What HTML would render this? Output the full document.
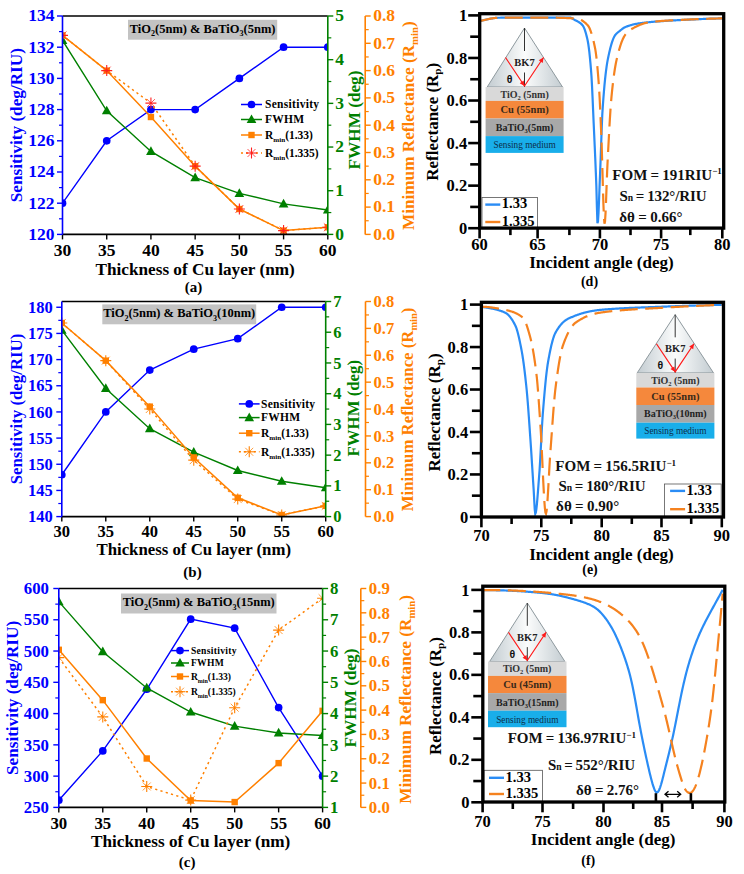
<!DOCTYPE html><html><head><meta charset="utf-8"><style>html,body{margin:0;padding:0;background:#fff;width:744px;height:874px;overflow:hidden}svg{display:block}text{font-family:"Liberation Serif",serif}</style></head><body>
<svg width="744" height="874" viewBox="0 0 744 874">
<rect width="744" height="874" fill="#fff"/>
<clipPath id="cla"><rect x="62.5" y="16.0" width="265.3" height="218.4"/></clipPath><g clip-path="url(#cla)">
<polyline points="62.50,203.20 106.72,140.80 150.93,109.60 195.15,109.60 239.37,78.40 283.58,47.20 327.80,47.20" fill="none" stroke="#0000ff" stroke-width="1.4" />
<circle cx="62.50" cy="203.20" r="3.85" fill="#0000ff"/>
<circle cx="106.72" cy="140.80" r="3.85" fill="#0000ff"/>
<circle cx="150.93" cy="109.60" r="3.85" fill="#0000ff"/>
<circle cx="195.15" cy="109.60" r="3.85" fill="#0000ff"/>
<circle cx="239.37" cy="78.40" r="3.85" fill="#0000ff"/>
<circle cx="283.58" cy="47.20" r="3.85" fill="#0000ff"/>
<circle cx="327.80" cy="47.20" r="3.85" fill="#0000ff"/>
<polyline points="62.50,40.46 106.72,110.79 150.93,151.41 195.15,177.62 239.37,193.34 283.58,203.82 327.80,209.94" fill="none" stroke="#008000" stroke-width="1.4" />
<path d="M62.50,35.36 L67.34,44.03 L57.66,44.03Z" fill="#008000"/>
<path d="M106.72,105.69 L111.56,114.36 L101.87,114.36Z" fill="#008000"/>
<path d="M150.93,146.31 L155.78,154.98 L146.09,154.98Z" fill="#008000"/>
<path d="M195.15,172.52 L200.00,181.19 L190.31,181.19Z" fill="#008000"/>
<path d="M239.37,188.24 L244.21,196.91 L234.52,196.91Z" fill="#008000"/>
<path d="M283.58,198.72 L288.43,207.39 L278.74,207.39Z" fill="#008000"/>
<path d="M327.80,204.84 L332.65,213.51 L322.95,213.51Z" fill="#008000"/>
<polyline points="62.50,35.38 106.72,70.60 150.93,117.01 195.15,166.15 239.37,209.01 283.58,230.58 327.80,227.30" fill="none" stroke="#ff8000" stroke-width="1.5" />
<rect x="59.30" y="32.18" width="6.40" height="6.40" fill="#ff8000"/>
<rect x="103.52" y="67.40" width="6.40" height="6.40" fill="#ff8000"/>
<rect x="147.73" y="113.81" width="6.40" height="6.40" fill="#ff8000"/>
<rect x="191.95" y="162.95" width="6.40" height="6.40" fill="#ff8000"/>
<rect x="236.17" y="205.81" width="6.40" height="6.40" fill="#ff8000"/>
<rect x="280.38" y="227.38" width="6.40" height="6.40" fill="#ff8000"/>
<rect x="324.60" y="224.10" width="6.40" height="6.40" fill="#ff8000"/>
<polyline points="62.50,35.38 106.72,70.60 150.93,103.09 195.15,166.15 239.37,209.01 283.58,230.58 327.80,227.30" fill="none" stroke="#ff8000" stroke-width="1.5" stroke-dasharray="2.2,3.3"/>
<g stroke="#ff2020" stroke-width="1.1"><line x1="57.00" y1="35.38" x2="68.00" y2="35.38"/><line x1="62.50" y1="29.88" x2="62.50" y2="40.88"/></g>
<g stroke="#ff2020" stroke-width="0.9" opacity="0.85"><line x1="58.54" y1="31.42" x2="66.46" y2="39.34"/><line x1="58.54" y1="39.34" x2="66.46" y2="31.42"/></g>
<g stroke="#ff2020" stroke-width="1.1"><line x1="101.22" y1="70.60" x2="112.22" y2="70.60"/><line x1="106.72" y1="65.10" x2="106.72" y2="76.10"/></g>
<g stroke="#ff2020" stroke-width="0.9" opacity="0.85"><line x1="102.76" y1="66.64" x2="110.68" y2="74.56"/><line x1="102.76" y1="74.56" x2="110.68" y2="66.64"/></g>
<g stroke="#ff2020" stroke-width="1.1"><line x1="145.43" y1="103.09" x2="156.43" y2="103.09"/><line x1="150.93" y1="97.59" x2="150.93" y2="108.59"/></g>
<g stroke="#ff2020" stroke-width="0.9" opacity="0.85"><line x1="146.97" y1="99.13" x2="154.89" y2="107.05"/><line x1="146.97" y1="107.05" x2="154.89" y2="99.13"/></g>
<g stroke="#ff2020" stroke-width="1.1"><line x1="189.65" y1="166.15" x2="200.65" y2="166.15"/><line x1="195.15" y1="160.65" x2="195.15" y2="171.65"/></g>
<g stroke="#ff2020" stroke-width="0.9" opacity="0.85"><line x1="191.19" y1="162.19" x2="199.11" y2="170.11"/><line x1="191.19" y1="170.11" x2="199.11" y2="162.19"/></g>
<g stroke="#ff2020" stroke-width="1.1"><line x1="233.87" y1="209.01" x2="244.87" y2="209.01"/><line x1="239.37" y1="203.51" x2="239.37" y2="214.51"/></g>
<g stroke="#ff2020" stroke-width="0.9" opacity="0.85"><line x1="235.41" y1="205.05" x2="243.33" y2="212.97"/><line x1="235.41" y1="212.97" x2="243.33" y2="205.05"/></g>
<g stroke="#ff2020" stroke-width="1.1"><line x1="278.08" y1="230.58" x2="289.08" y2="230.58"/><line x1="283.58" y1="225.08" x2="283.58" y2="236.08"/></g>
<g stroke="#ff2020" stroke-width="0.9" opacity="0.85"><line x1="279.62" y1="226.62" x2="287.54" y2="234.54"/><line x1="279.62" y1="234.54" x2="287.54" y2="226.62"/></g>
<g stroke="#ff2020" stroke-width="1.1"><line x1="322.30" y1="227.30" x2="333.30" y2="227.30"/><line x1="327.80" y1="221.80" x2="327.80" y2="232.80"/></g>
<g stroke="#ff2020" stroke-width="0.9" opacity="0.85"><line x1="323.84" y1="223.34" x2="331.76" y2="231.26"/><line x1="323.84" y1="231.26" x2="331.76" y2="223.34"/></g>
</g>
<line x1="62.50" y1="16.00" x2="327.80" y2="16.00" stroke="#000" stroke-width="1.5" />
<line x1="62.50" y1="234.40" x2="327.80" y2="234.40" stroke="#000" stroke-width="1.6" />
<line x1="62.50" y1="234.40" x2="62.50" y2="239.40" stroke="#000" stroke-width="1.4" />
<text x="62.50" y="255.70" font-size="17.5" fill="#000" text-anchor="middle" font-weight="bold" >30</text>
<line x1="106.72" y1="234.40" x2="106.72" y2="239.40" stroke="#000" stroke-width="1.4" />
<text x="106.72" y="255.70" font-size="17.5" fill="#000" text-anchor="middle" font-weight="bold" >35</text>
<line x1="150.93" y1="234.40" x2="150.93" y2="239.40" stroke="#000" stroke-width="1.4" />
<text x="150.93" y="255.70" font-size="17.5" fill="#000" text-anchor="middle" font-weight="bold" >40</text>
<line x1="195.15" y1="234.40" x2="195.15" y2="239.40" stroke="#000" stroke-width="1.4" />
<text x="195.15" y="255.70" font-size="17.5" fill="#000" text-anchor="middle" font-weight="bold" >45</text>
<line x1="239.37" y1="234.40" x2="239.37" y2="239.40" stroke="#000" stroke-width="1.4" />
<text x="239.37" y="255.70" font-size="17.5" fill="#000" text-anchor="middle" font-weight="bold" >50</text>
<line x1="283.58" y1="234.40" x2="283.58" y2="239.40" stroke="#000" stroke-width="1.4" />
<text x="283.58" y="255.70" font-size="17.5" fill="#000" text-anchor="middle" font-weight="bold" >55</text>
<line x1="327.80" y1="234.40" x2="327.80" y2="239.40" stroke="#000" stroke-width="1.4" />
<text x="327.80" y="255.70" font-size="17.5" fill="#000" text-anchor="middle" font-weight="bold" >60</text>
<line x1="62.50" y1="16.00" x2="62.50" y2="234.40" stroke="#0000ff" stroke-width="1.6" />
<line x1="62.50" y1="234.40" x2="57.00" y2="234.40" stroke="#0000ff" stroke-width="1.4" />
<text x="54.50" y="239.70" font-size="17.5" fill="#0000ff" text-anchor="end" font-weight="bold" >120</text>
<line x1="62.50" y1="203.20" x2="57.00" y2="203.20" stroke="#0000ff" stroke-width="1.4" />
<text x="54.50" y="208.50" font-size="17.5" fill="#0000ff" text-anchor="end" font-weight="bold" >122</text>
<line x1="62.50" y1="172.00" x2="57.00" y2="172.00" stroke="#0000ff" stroke-width="1.4" />
<text x="54.50" y="177.30" font-size="17.5" fill="#0000ff" text-anchor="end" font-weight="bold" >124</text>
<line x1="62.50" y1="140.80" x2="57.00" y2="140.80" stroke="#0000ff" stroke-width="1.4" />
<text x="54.50" y="146.10" font-size="17.5" fill="#0000ff" text-anchor="end" font-weight="bold" >126</text>
<line x1="62.50" y1="109.60" x2="57.00" y2="109.60" stroke="#0000ff" stroke-width="1.4" />
<text x="54.50" y="114.90" font-size="17.5" fill="#0000ff" text-anchor="end" font-weight="bold" >128</text>
<line x1="62.50" y1="78.40" x2="57.00" y2="78.40" stroke="#0000ff" stroke-width="1.4" />
<text x="54.50" y="83.70" font-size="17.5" fill="#0000ff" text-anchor="end" font-weight="bold" >130</text>
<line x1="62.50" y1="47.20" x2="57.00" y2="47.20" stroke="#0000ff" stroke-width="1.4" />
<text x="54.50" y="52.50" font-size="17.5" fill="#0000ff" text-anchor="end" font-weight="bold" >132</text>
<line x1="62.50" y1="16.00" x2="57.00" y2="16.00" stroke="#0000ff" stroke-width="1.4" />
<text x="54.50" y="21.30" font-size="17.5" fill="#0000ff" text-anchor="end" font-weight="bold" >134</text>
<line x1="62.50" y1="218.80" x2="59.00" y2="218.80" stroke="#0000ff" stroke-width="1.2" />
<line x1="62.50" y1="187.60" x2="59.00" y2="187.60" stroke="#0000ff" stroke-width="1.2" />
<line x1="62.50" y1="156.40" x2="59.00" y2="156.40" stroke="#0000ff" stroke-width="1.2" />
<line x1="62.50" y1="125.20" x2="59.00" y2="125.20" stroke="#0000ff" stroke-width="1.2" />
<line x1="62.50" y1="94.00" x2="59.00" y2="94.00" stroke="#0000ff" stroke-width="1.2" />
<line x1="62.50" y1="62.80" x2="59.00" y2="62.80" stroke="#0000ff" stroke-width="1.2" />
<line x1="62.50" y1="31.60" x2="59.00" y2="31.60" stroke="#0000ff" stroke-width="1.2" />
<line x1="327.80" y1="16.00" x2="327.80" y2="234.40" stroke="#008000" stroke-width="1.6" />
<line x1="327.80" y1="234.40" x2="333.30" y2="234.40" stroke="#008000" stroke-width="1.4" />
<text x="335.30" y="239.70" font-size="17.5" fill="#008000" text-anchor="start" font-weight="bold" >0</text>
<line x1="327.80" y1="190.72" x2="333.30" y2="190.72" stroke="#008000" stroke-width="1.4" />
<text x="335.30" y="196.02" font-size="17.5" fill="#008000" text-anchor="start" font-weight="bold" >1</text>
<line x1="327.80" y1="147.04" x2="333.30" y2="147.04" stroke="#008000" stroke-width="1.4" />
<text x="335.30" y="152.34" font-size="17.5" fill="#008000" text-anchor="start" font-weight="bold" >2</text>
<line x1="327.80" y1="103.36" x2="333.30" y2="103.36" stroke="#008000" stroke-width="1.4" />
<text x="335.30" y="108.66" font-size="17.5" fill="#008000" text-anchor="start" font-weight="bold" >3</text>
<line x1="327.80" y1="59.68" x2="333.30" y2="59.68" stroke="#008000" stroke-width="1.4" />
<text x="335.30" y="64.98" font-size="17.5" fill="#008000" text-anchor="start" font-weight="bold" >4</text>
<line x1="327.80" y1="16.00" x2="333.30" y2="16.00" stroke="#008000" stroke-width="1.4" />
<text x="335.30" y="21.30" font-size="17.5" fill="#008000" text-anchor="start" font-weight="bold" >5</text>
<line x1="327.80" y1="212.56" x2="331.30" y2="212.56" stroke="#008000" stroke-width="1.2" />
<line x1="327.80" y1="168.88" x2="331.30" y2="168.88" stroke="#008000" stroke-width="1.2" />
<line x1="327.80" y1="125.20" x2="331.30" y2="125.20" stroke="#008000" stroke-width="1.2" />
<line x1="327.80" y1="81.52" x2="331.30" y2="81.52" stroke="#008000" stroke-width="1.2" />
<line x1="327.80" y1="37.84" x2="331.30" y2="37.84" stroke="#008000" stroke-width="1.2" />
<line x1="365.20" y1="16.00" x2="365.20" y2="234.40" stroke="#ff8000" stroke-width="1.6" />
<line x1="365.20" y1="234.40" x2="370.70" y2="234.40" stroke="#ff8000" stroke-width="1.4" />
<text x="373.20" y="239.70" font-size="17.5" fill="#ff8000" text-anchor="start" font-weight="bold" >0.0</text>
<line x1="365.20" y1="207.10" x2="370.70" y2="207.10" stroke="#ff8000" stroke-width="1.4" />
<text x="373.20" y="212.40" font-size="17.5" fill="#ff8000" text-anchor="start" font-weight="bold" >0.1</text>
<line x1="365.20" y1="179.80" x2="370.70" y2="179.80" stroke="#ff8000" stroke-width="1.4" />
<text x="373.20" y="185.10" font-size="17.5" fill="#ff8000" text-anchor="start" font-weight="bold" >0.2</text>
<line x1="365.20" y1="152.50" x2="370.70" y2="152.50" stroke="#ff8000" stroke-width="1.4" />
<text x="373.20" y="157.80" font-size="17.5" fill="#ff8000" text-anchor="start" font-weight="bold" >0.3</text>
<line x1="365.20" y1="125.20" x2="370.70" y2="125.20" stroke="#ff8000" stroke-width="1.4" />
<text x="373.20" y="130.50" font-size="17.5" fill="#ff8000" text-anchor="start" font-weight="bold" >0.4</text>
<line x1="365.20" y1="97.90" x2="370.70" y2="97.90" stroke="#ff8000" stroke-width="1.4" />
<text x="373.20" y="103.20" font-size="17.5" fill="#ff8000" text-anchor="start" font-weight="bold" >0.5</text>
<line x1="365.20" y1="70.60" x2="370.70" y2="70.60" stroke="#ff8000" stroke-width="1.4" />
<text x="373.20" y="75.90" font-size="17.5" fill="#ff8000" text-anchor="start" font-weight="bold" >0.6</text>
<line x1="365.20" y1="43.30" x2="370.70" y2="43.30" stroke="#ff8000" stroke-width="1.4" />
<text x="373.20" y="48.60" font-size="17.5" fill="#ff8000" text-anchor="start" font-weight="bold" >0.7</text>
<line x1="365.20" y1="16.00" x2="370.70" y2="16.00" stroke="#ff8000" stroke-width="1.4" />
<text x="373.20" y="21.30" font-size="17.5" fill="#ff8000" text-anchor="start" font-weight="bold" >0.8</text>
<line x1="365.20" y1="220.75" x2="368.70" y2="220.75" stroke="#ff8000" stroke-width="1.2" />
<line x1="365.20" y1="193.45" x2="368.70" y2="193.45" stroke="#ff8000" stroke-width="1.2" />
<line x1="365.20" y1="166.15" x2="368.70" y2="166.15" stroke="#ff8000" stroke-width="1.2" />
<line x1="365.20" y1="138.85" x2="368.70" y2="138.85" stroke="#ff8000" stroke-width="1.2" />
<line x1="365.20" y1="111.55" x2="368.70" y2="111.55" stroke="#ff8000" stroke-width="1.2" />
<line x1="365.20" y1="84.25" x2="368.70" y2="84.25" stroke="#ff8000" stroke-width="1.2" />
<line x1="365.20" y1="56.95" x2="368.70" y2="56.95" stroke="#ff8000" stroke-width="1.2" />
<line x1="365.20" y1="29.65" x2="368.70" y2="29.65" stroke="#ff8000" stroke-width="1.2" />
<text transform="translate(22.2,125.2) rotate(-90)" font-size="17.2" fill="#0000ff" text-anchor="middle" font-weight="bold">Sensitivity (deg/RIU)</text>
<text transform="translate(359.7,120) rotate(-90)" font-size="17.2" fill="#008000" text-anchor="middle" font-weight="bold">FWHM (deg)</text>
<text transform="translate(413.5,125.7) rotate(-90)" font-size="17.2" fill="#ff8000" text-anchor="middle" font-weight="bold">Minimum Reflectance (R<tspan font-size="10.7" dy="4">min</tspan><tspan dy="-4">)</tspan></text>
<text x="195.15" y="274.50" font-size="17.2" fill="#000" text-anchor="middle" font-weight="bold" >Thickness of Cu layer (nm)</text>
<text x="193.50" y="292.30" font-size="15" fill="#000" text-anchor="middle" font-weight="bold" >(a)</text>
<rect x="128" y="19.8" width="149.2" height="19.900000000000002" fill="#c3c3c3"/>
<text x="202.60" y="32.60" font-size="12.5" fill="#000" text-anchor="middle" font-weight="bold">TiO<tspan font-size="8.1" dy="3.8">2</tspan><tspan dy="-3.8">(5nm) &amp; BaTiO</tspan><tspan font-size="8.1" dy="3.8">3</tspan><tspan dy="-3.8">(5nm)</tspan></text>
<line x1="241.00" y1="104.50" x2="262.00" y2="104.50" stroke="#0000ff" stroke-width="1.5" />
<circle cx="251.50" cy="104.50" r="3.85" fill="#0000ff"/>
<text x="265.00" y="108.30" font-size="11.5" fill="#000" text-anchor="start" font-weight="bold" letter-spacing="0.3">Sensitivity</text>
<line x1="241.00" y1="119.50" x2="262.00" y2="119.50" stroke="#008000" stroke-width="1.5" />
<path d="M251.50,114.40 L256.35,123.07 L246.66,123.07Z" fill="#008000"/>
<text x="265.00" y="123.30" font-size="11.5" fill="#000" text-anchor="start" font-weight="bold" letter-spacing="0.3">FWHM</text>
<line x1="241.00" y1="135.00" x2="262.00" y2="135.00" stroke="#ff8000" stroke-width="1.5" />
<rect x="248.30" y="131.80" width="6.40" height="6.40" fill="#ff8000"/>
<text x="265.00" y="138.79" font-size="11.5" fill="#000" text-anchor="start" font-weight="bold" >R<tspan font-size="7.1" dy="3">min</tspan><tspan dy="-3">(1.33)</tspan></text>
<line x1="241.00" y1="153.00" x2="262.00" y2="153.00" stroke="#ff8000" stroke-width="1.4" stroke-dasharray="2,3"/>
<g stroke="#ff2020" stroke-width="1.1"><line x1="246.00" y1="153.00" x2="257.00" y2="153.00"/><line x1="251.50" y1="147.50" x2="251.50" y2="158.50"/></g>
<g stroke="#ff2020" stroke-width="0.9" opacity="0.85"><line x1="247.54" y1="149.04" x2="255.46" y2="156.96"/><line x1="247.54" y1="156.96" x2="255.46" y2="149.04"/></g>
<text x="265.00" y="156.79" font-size="11.5" fill="#000" text-anchor="start" font-weight="bold" >R<tspan font-size="7.1" dy="3">min</tspan><tspan dy="-3">(1.335)</tspan></text>
<clipPath id="clb"><rect x="61.8" y="301.5" width="263.9" height="215.10000000000002"/></clipPath><g clip-path="url(#clb)">
<polyline points="61.80,474.73 105.78,411.93 149.77,370.06 193.75,349.13 237.73,338.66 281.72,307.26 325.70,307.26" fill="none" stroke="#0000ff" stroke-width="1.4" />
<circle cx="61.80" cy="474.73" r="3.85" fill="#0000ff"/>
<circle cx="105.78" cy="411.93" r="3.85" fill="#0000ff"/>
<circle cx="149.77" cy="370.06" r="3.85" fill="#0000ff"/>
<circle cx="193.75" cy="349.13" r="3.85" fill="#0000ff"/>
<circle cx="237.73" cy="338.66" r="3.85" fill="#0000ff"/>
<circle cx="281.72" cy="307.26" r="3.85" fill="#0000ff"/>
<circle cx="325.70" cy="307.26" r="3.85" fill="#0000ff"/>
<polyline points="61.80,330.08 105.78,388.46 149.77,428.72 193.75,452.07 237.73,470.51 281.72,481.26 325.70,487.72" fill="none" stroke="#008000" stroke-width="1.4" />
<path d="M61.80,324.98 L66.64,333.65 L56.95,333.65Z" fill="#008000"/>
<path d="M105.78,383.36 L110.63,392.03 L100.94,392.03Z" fill="#008000"/>
<path d="M149.77,423.62 L154.61,432.29 L144.92,432.29Z" fill="#008000"/>
<path d="M193.75,446.97 L198.59,455.64 L188.91,455.64Z" fill="#008000"/>
<path d="M237.73,465.41 L242.58,474.08 L232.89,474.08Z" fill="#008000"/>
<path d="M281.72,476.16 L286.56,484.83 L276.87,484.83Z" fill="#008000"/>
<path d="M325.70,482.62 L330.55,491.29 L320.85,491.29Z" fill="#008000"/>
<polyline points="61.80,323.01 105.78,360.65 149.77,406.63 193.75,457.45 237.73,497.78 281.72,514.99 325.70,505.85" fill="none" stroke="#ff8000" stroke-width="1.5" />
<rect x="58.60" y="319.81" width="6.40" height="6.40" fill="#ff8000"/>
<rect x="102.58" y="357.45" width="6.40" height="6.40" fill="#ff8000"/>
<rect x="146.57" y="403.43" width="6.40" height="6.40" fill="#ff8000"/>
<rect x="190.55" y="454.25" width="6.40" height="6.40" fill="#ff8000"/>
<rect x="234.53" y="494.58" width="6.40" height="6.40" fill="#ff8000"/>
<rect x="278.52" y="511.79" width="6.40" height="6.40" fill="#ff8000"/>
<rect x="322.50" y="502.65" width="6.40" height="6.40" fill="#ff8000"/>
<polyline points="61.80,323.01 105.78,360.65 149.77,409.05 193.75,460.14 237.73,499.12 281.72,514.99 325.70,505.85" fill="none" stroke="#ff8000" stroke-width="1.5" stroke-dasharray="2.2,3.3"/>
<g stroke="#ff8000" stroke-width="1.1"><line x1="56.30" y1="323.01" x2="67.30" y2="323.01"/><line x1="61.80" y1="317.51" x2="61.80" y2="328.51"/></g>
<g stroke="#ff8000" stroke-width="0.9" opacity="0.85"><line x1="57.84" y1="319.05" x2="65.76" y2="326.97"/><line x1="57.84" y1="326.97" x2="65.76" y2="319.05"/></g>
<g stroke="#ff8000" stroke-width="1.1"><line x1="100.28" y1="360.65" x2="111.28" y2="360.65"/><line x1="105.78" y1="355.15" x2="105.78" y2="366.15"/></g>
<g stroke="#ff8000" stroke-width="0.9" opacity="0.85"><line x1="101.82" y1="356.69" x2="109.74" y2="364.61"/><line x1="101.82" y1="364.61" x2="109.74" y2="356.69"/></g>
<g stroke="#ff8000" stroke-width="1.1"><line x1="144.27" y1="409.05" x2="155.27" y2="409.05"/><line x1="149.77" y1="403.55" x2="149.77" y2="414.55"/></g>
<g stroke="#ff8000" stroke-width="0.9" opacity="0.85"><line x1="145.81" y1="405.09" x2="153.73" y2="413.01"/><line x1="145.81" y1="413.01" x2="153.73" y2="405.09"/></g>
<g stroke="#ff8000" stroke-width="1.1"><line x1="188.25" y1="460.14" x2="199.25" y2="460.14"/><line x1="193.75" y1="454.64" x2="193.75" y2="465.64"/></g>
<g stroke="#ff8000" stroke-width="0.9" opacity="0.85"><line x1="189.79" y1="456.18" x2="197.71" y2="464.10"/><line x1="189.79" y1="464.10" x2="197.71" y2="456.18"/></g>
<g stroke="#ff8000" stroke-width="1.1"><line x1="232.23" y1="499.12" x2="243.23" y2="499.12"/><line x1="237.73" y1="493.62" x2="237.73" y2="504.62"/></g>
<g stroke="#ff8000" stroke-width="0.9" opacity="0.85"><line x1="233.77" y1="495.16" x2="241.69" y2="503.08"/><line x1="233.77" y1="503.08" x2="241.69" y2="495.16"/></g>
<g stroke="#ff8000" stroke-width="1.1"><line x1="276.22" y1="514.99" x2="287.22" y2="514.99"/><line x1="281.72" y1="509.49" x2="281.72" y2="520.49"/></g>
<g stroke="#ff8000" stroke-width="0.9" opacity="0.85"><line x1="277.76" y1="511.03" x2="285.68" y2="518.95"/><line x1="277.76" y1="518.95" x2="285.68" y2="511.03"/></g>
<g stroke="#ff8000" stroke-width="1.1"><line x1="320.20" y1="505.85" x2="331.20" y2="505.85"/><line x1="325.70" y1="500.35" x2="325.70" y2="511.35"/></g>
<g stroke="#ff8000" stroke-width="0.9" opacity="0.85"><line x1="321.74" y1="501.89" x2="329.66" y2="509.81"/><line x1="321.74" y1="509.81" x2="329.66" y2="501.89"/></g>
</g>
<line x1="61.80" y1="301.50" x2="325.70" y2="301.50" stroke="#000" stroke-width="1.5" />
<line x1="61.80" y1="516.60" x2="325.70" y2="516.60" stroke="#000" stroke-width="1.6" />
<line x1="61.80" y1="516.60" x2="61.80" y2="521.60" stroke="#000" stroke-width="1.4" />
<text x="61.80" y="537.20" font-size="16.5" fill="#000" text-anchor="middle" font-weight="bold" >30</text>
<line x1="105.78" y1="516.60" x2="105.78" y2="521.60" stroke="#000" stroke-width="1.4" />
<text x="105.78" y="537.20" font-size="16.5" fill="#000" text-anchor="middle" font-weight="bold" >35</text>
<line x1="149.77" y1="516.60" x2="149.77" y2="521.60" stroke="#000" stroke-width="1.4" />
<text x="149.77" y="537.20" font-size="16.5" fill="#000" text-anchor="middle" font-weight="bold" >40</text>
<line x1="193.75" y1="516.60" x2="193.75" y2="521.60" stroke="#000" stroke-width="1.4" />
<text x="193.75" y="537.20" font-size="16.5" fill="#000" text-anchor="middle" font-weight="bold" >45</text>
<line x1="237.73" y1="516.60" x2="237.73" y2="521.60" stroke="#000" stroke-width="1.4" />
<text x="237.73" y="537.20" font-size="16.5" fill="#000" text-anchor="middle" font-weight="bold" >50</text>
<line x1="281.72" y1="516.60" x2="281.72" y2="521.60" stroke="#000" stroke-width="1.4" />
<text x="281.72" y="537.20" font-size="16.5" fill="#000" text-anchor="middle" font-weight="bold" >55</text>
<line x1="325.70" y1="516.60" x2="325.70" y2="521.60" stroke="#000" stroke-width="1.4" />
<text x="325.70" y="537.20" font-size="16.5" fill="#000" text-anchor="middle" font-weight="bold" >60</text>
<line x1="61.80" y1="301.50" x2="61.80" y2="516.60" stroke="#0000ff" stroke-width="1.6" />
<line x1="61.80" y1="516.60" x2="56.30" y2="516.60" stroke="#0000ff" stroke-width="1.4" />
<text x="52.80" y="522.20" font-size="16.5" fill="#0000ff" text-anchor="end" font-weight="bold" >140</text>
<line x1="61.80" y1="490.43" x2="56.30" y2="490.43" stroke="#0000ff" stroke-width="1.4" />
<text x="52.80" y="496.03" font-size="16.5" fill="#0000ff" text-anchor="end" font-weight="bold" >145</text>
<line x1="61.80" y1="464.26" x2="56.30" y2="464.26" stroke="#0000ff" stroke-width="1.4" />
<text x="52.80" y="469.86" font-size="16.5" fill="#0000ff" text-anchor="end" font-weight="bold" >150</text>
<line x1="61.80" y1="438.10" x2="56.30" y2="438.10" stroke="#0000ff" stroke-width="1.4" />
<text x="52.80" y="443.70" font-size="16.5" fill="#0000ff" text-anchor="end" font-weight="bold" >155</text>
<line x1="61.80" y1="411.93" x2="56.30" y2="411.93" stroke="#0000ff" stroke-width="1.4" />
<text x="52.80" y="417.53" font-size="16.5" fill="#0000ff" text-anchor="end" font-weight="bold" >160</text>
<line x1="61.80" y1="385.76" x2="56.30" y2="385.76" stroke="#0000ff" stroke-width="1.4" />
<text x="52.80" y="391.36" font-size="16.5" fill="#0000ff" text-anchor="end" font-weight="bold" >165</text>
<line x1="61.80" y1="359.59" x2="56.30" y2="359.59" stroke="#0000ff" stroke-width="1.4" />
<text x="52.80" y="365.19" font-size="16.5" fill="#0000ff" text-anchor="end" font-weight="bold" >170</text>
<line x1="61.80" y1="333.42" x2="56.30" y2="333.42" stroke="#0000ff" stroke-width="1.4" />
<text x="52.80" y="339.02" font-size="16.5" fill="#0000ff" text-anchor="end" font-weight="bold" >175</text>
<line x1="61.80" y1="307.26" x2="56.30" y2="307.26" stroke="#0000ff" stroke-width="1.4" />
<text x="52.80" y="312.86" font-size="16.5" fill="#0000ff" text-anchor="end" font-weight="bold" >180</text>
<line x1="61.80" y1="503.52" x2="58.30" y2="503.52" stroke="#0000ff" stroke-width="1.2" />
<line x1="61.80" y1="477.35" x2="58.30" y2="477.35" stroke="#0000ff" stroke-width="1.2" />
<line x1="61.80" y1="451.18" x2="58.30" y2="451.18" stroke="#0000ff" stroke-width="1.2" />
<line x1="61.80" y1="425.01" x2="58.30" y2="425.01" stroke="#0000ff" stroke-width="1.2" />
<line x1="61.80" y1="398.84" x2="58.30" y2="398.84" stroke="#0000ff" stroke-width="1.2" />
<line x1="61.80" y1="372.68" x2="58.30" y2="372.68" stroke="#0000ff" stroke-width="1.2" />
<line x1="61.80" y1="346.51" x2="58.30" y2="346.51" stroke="#0000ff" stroke-width="1.2" />
<line x1="61.80" y1="320.34" x2="58.30" y2="320.34" stroke="#0000ff" stroke-width="1.2" />
<line x1="325.70" y1="301.50" x2="325.70" y2="516.60" stroke="#008000" stroke-width="1.6" />
<line x1="325.70" y1="516.60" x2="331.20" y2="516.60" stroke="#008000" stroke-width="1.4" />
<text x="333.20" y="522.20" font-size="16.5" fill="#008000" text-anchor="start" font-weight="bold" >0</text>
<line x1="325.70" y1="485.87" x2="331.20" y2="485.87" stroke="#008000" stroke-width="1.4" />
<text x="333.20" y="491.47" font-size="16.5" fill="#008000" text-anchor="start" font-weight="bold" >1</text>
<line x1="325.70" y1="455.14" x2="331.20" y2="455.14" stroke="#008000" stroke-width="1.4" />
<text x="333.20" y="460.74" font-size="16.5" fill="#008000" text-anchor="start" font-weight="bold" >2</text>
<line x1="325.70" y1="424.41" x2="331.20" y2="424.41" stroke="#008000" stroke-width="1.4" />
<text x="333.20" y="430.01" font-size="16.5" fill="#008000" text-anchor="start" font-weight="bold" >3</text>
<line x1="325.70" y1="393.69" x2="331.20" y2="393.69" stroke="#008000" stroke-width="1.4" />
<text x="333.20" y="399.29" font-size="16.5" fill="#008000" text-anchor="start" font-weight="bold" >4</text>
<line x1="325.70" y1="362.96" x2="331.20" y2="362.96" stroke="#008000" stroke-width="1.4" />
<text x="333.20" y="368.56" font-size="16.5" fill="#008000" text-anchor="start" font-weight="bold" >5</text>
<line x1="325.70" y1="332.23" x2="331.20" y2="332.23" stroke="#008000" stroke-width="1.4" />
<text x="333.20" y="337.83" font-size="16.5" fill="#008000" text-anchor="start" font-weight="bold" >6</text>
<line x1="325.70" y1="301.50" x2="331.20" y2="301.50" stroke="#008000" stroke-width="1.4" />
<text x="333.20" y="307.10" font-size="16.5" fill="#008000" text-anchor="start" font-weight="bold" >7</text>
<line x1="325.70" y1="501.24" x2="329.20" y2="501.24" stroke="#008000" stroke-width="1.2" />
<line x1="325.70" y1="470.51" x2="329.20" y2="470.51" stroke="#008000" stroke-width="1.2" />
<line x1="325.70" y1="439.78" x2="329.20" y2="439.78" stroke="#008000" stroke-width="1.2" />
<line x1="325.70" y1="409.05" x2="329.20" y2="409.05" stroke="#008000" stroke-width="1.2" />
<line x1="325.70" y1="378.32" x2="329.20" y2="378.32" stroke="#008000" stroke-width="1.2" />
<line x1="325.70" y1="347.59" x2="329.20" y2="347.59" stroke="#008000" stroke-width="1.2" />
<line x1="325.70" y1="316.86" x2="329.20" y2="316.86" stroke="#008000" stroke-width="1.2" />
<line x1="365.50" y1="301.50" x2="365.50" y2="516.60" stroke="#ff8000" stroke-width="1.6" />
<line x1="365.50" y1="516.60" x2="371.00" y2="516.60" stroke="#ff8000" stroke-width="1.4" />
<text x="373.50" y="522.20" font-size="16.5" fill="#ff8000" text-anchor="start" font-weight="bold" >0.0</text>
<line x1="365.50" y1="489.71" x2="371.00" y2="489.71" stroke="#ff8000" stroke-width="1.4" />
<text x="373.50" y="495.31" font-size="16.5" fill="#ff8000" text-anchor="start" font-weight="bold" >0.1</text>
<line x1="365.50" y1="462.82" x2="371.00" y2="462.82" stroke="#ff8000" stroke-width="1.4" />
<text x="373.50" y="468.43" font-size="16.5" fill="#ff8000" text-anchor="start" font-weight="bold" >0.2</text>
<line x1="365.50" y1="435.94" x2="371.00" y2="435.94" stroke="#ff8000" stroke-width="1.4" />
<text x="373.50" y="441.54" font-size="16.5" fill="#ff8000" text-anchor="start" font-weight="bold" >0.3</text>
<line x1="365.50" y1="409.05" x2="371.00" y2="409.05" stroke="#ff8000" stroke-width="1.4" />
<text x="373.50" y="414.65" font-size="16.5" fill="#ff8000" text-anchor="start" font-weight="bold" >0.4</text>
<line x1="365.50" y1="382.16" x2="371.00" y2="382.16" stroke="#ff8000" stroke-width="1.4" />
<text x="373.50" y="387.76" font-size="16.5" fill="#ff8000" text-anchor="start" font-weight="bold" >0.5</text>
<line x1="365.50" y1="355.27" x2="371.00" y2="355.27" stroke="#ff8000" stroke-width="1.4" />
<text x="373.50" y="360.88" font-size="16.5" fill="#ff8000" text-anchor="start" font-weight="bold" >0.6</text>
<line x1="365.50" y1="328.39" x2="371.00" y2="328.39" stroke="#ff8000" stroke-width="1.4" />
<text x="373.50" y="333.99" font-size="16.5" fill="#ff8000" text-anchor="start" font-weight="bold" >0.7</text>
<line x1="365.50" y1="301.50" x2="371.00" y2="301.50" stroke="#ff8000" stroke-width="1.4" />
<text x="373.50" y="307.10" font-size="16.5" fill="#ff8000" text-anchor="start" font-weight="bold" >0.8</text>
<line x1="365.50" y1="503.16" x2="369.00" y2="503.16" stroke="#ff8000" stroke-width="1.2" />
<line x1="365.50" y1="476.27" x2="369.00" y2="476.27" stroke="#ff8000" stroke-width="1.2" />
<line x1="365.50" y1="449.38" x2="369.00" y2="449.38" stroke="#ff8000" stroke-width="1.2" />
<line x1="365.50" y1="422.49" x2="369.00" y2="422.49" stroke="#ff8000" stroke-width="1.2" />
<line x1="365.50" y1="395.61" x2="369.00" y2="395.61" stroke="#ff8000" stroke-width="1.2" />
<line x1="365.50" y1="368.72" x2="369.00" y2="368.72" stroke="#ff8000" stroke-width="1.2" />
<line x1="365.50" y1="341.83" x2="369.00" y2="341.83" stroke="#ff8000" stroke-width="1.2" />
<line x1="365.50" y1="314.94" x2="369.00" y2="314.94" stroke="#ff8000" stroke-width="1.2" />
<text transform="translate(22.4,409.05) rotate(-90)" font-size="16.8" fill="#0000ff" text-anchor="middle" font-weight="bold">Sensitivity (deg/RIU)</text>
<text transform="translate(358.8,408.2) rotate(-90)" font-size="16.8" fill="#008000" text-anchor="middle" font-weight="bold">FWHM (deg)</text>
<text transform="translate(412.5,409.5) rotate(-90)" font-size="16.8" fill="#ff8000" text-anchor="middle" font-weight="bold">Minimum Reflectance (R<tspan font-size="10.4" dy="4">min</tspan><tspan dy="-4">)</tspan></text>
<text x="193.75" y="554.50" font-size="16.8" fill="#000" text-anchor="middle" font-weight="bold" >Thickness of Cu layer (nm)</text>
<text x="192.50" y="576.50" font-size="15" fill="#000" text-anchor="middle" font-weight="bold" >(b)</text>
<rect x="102.3" y="304.4" width="153.89999999999998" height="19.900000000000034" fill="#c3c3c3"/>
<text x="179.25" y="317.20" font-size="12.5" fill="#000" text-anchor="middle" font-weight="bold">TiO<tspan font-size="8.1" dy="3.8">2</tspan><tspan dy="-3.8">(5nm) &amp; BaTiO</tspan><tspan font-size="8.1" dy="3.8">3</tspan><tspan dy="-3.8">(10nm)</tspan></text>
<line x1="238.90" y1="403.90" x2="259.60" y2="403.90" stroke="#0000ff" stroke-width="1.5" />
<circle cx="249.25" cy="403.90" r="3.85" fill="#0000ff"/>
<text x="261.00" y="407.69" font-size="11.5" fill="#000" text-anchor="start" font-weight="bold" letter-spacing="0.3">Sensitivity</text>
<line x1="238.90" y1="417.60" x2="259.60" y2="417.60" stroke="#008000" stroke-width="1.5" />
<path d="M249.25,412.50 L254.09,421.17 L244.41,421.17Z" fill="#008000"/>
<text x="261.00" y="421.40" font-size="11.5" fill="#000" text-anchor="start" font-weight="bold" letter-spacing="0.3">FWHM</text>
<line x1="238.90" y1="433.20" x2="259.60" y2="433.20" stroke="#ff8000" stroke-width="1.5" />
<rect x="246.05" y="430.00" width="6.40" height="6.40" fill="#ff8000"/>
<text x="261.00" y="437.00" font-size="11.5" fill="#000" text-anchor="start" font-weight="bold" >R<tspan font-size="7.1" dy="3">min</tspan><tspan dy="-3">(1.33)</tspan></text>
<line x1="238.90" y1="451.80" x2="259.60" y2="451.80" stroke="#ff8000" stroke-width="1.4" stroke-dasharray="2,3"/>
<g stroke="#ff8000" stroke-width="1.1"><line x1="243.75" y1="451.80" x2="254.75" y2="451.80"/><line x1="249.25" y1="446.30" x2="249.25" y2="457.30"/></g>
<g stroke="#ff8000" stroke-width="0.9" opacity="0.85"><line x1="245.29" y1="447.84" x2="253.21" y2="455.76"/><line x1="245.29" y1="455.76" x2="253.21" y2="447.84"/></g>
<text x="261.00" y="455.60" font-size="11.5" fill="#000" text-anchor="start" font-weight="bold" >R<tspan font-size="7.1" dy="3">min</tspan><tspan dy="-3">(1.335)</tspan></text>
<clipPath id="clc"><rect x="58.8" y="588.5" width="263.8" height="218.89999999999998"/></clipPath><g clip-path="url(#clc)">
<polyline points="58.80,800.21 102.77,750.92 146.73,689.26 190.70,619.15 234.67,628.15 278.63,707.58 322.60,776.13" fill="none" stroke="#0000ff" stroke-width="1.4" />
<circle cx="58.80" cy="800.21" r="3.85" fill="#0000ff"/>
<circle cx="102.77" cy="750.92" r="3.85" fill="#0000ff"/>
<circle cx="146.73" cy="689.26" r="3.85" fill="#0000ff"/>
<circle cx="190.70" cy="619.15" r="3.85" fill="#0000ff"/>
<circle cx="234.67" cy="628.15" r="3.85" fill="#0000ff"/>
<circle cx="278.63" cy="707.58" r="3.85" fill="#0000ff"/>
<circle cx="322.60" cy="776.13" r="3.85" fill="#0000ff"/>
<polyline points="58.80,601.63 102.77,651.67 146.73,687.94 190.70,712.02 234.67,726.09 278.63,732.97 322.60,735.48" fill="none" stroke="#008000" stroke-width="1.4" />
<path d="M58.80,596.53 L63.64,605.20 L53.95,605.20Z" fill="#008000"/>
<path d="M102.77,646.57 L107.61,655.24 L97.92,655.24Z" fill="#008000"/>
<path d="M146.73,682.84 L151.58,691.51 L141.89,691.51Z" fill="#008000"/>
<path d="M190.70,706.92 L195.54,715.59 L185.85,715.59Z" fill="#008000"/>
<path d="M234.67,720.99 L239.51,729.66 L229.82,729.66Z" fill="#008000"/>
<path d="M278.63,727.87 L283.48,736.54 L273.79,736.54Z" fill="#008000"/>
<path d="M322.60,730.38 L327.45,739.05 L317.75,739.05Z" fill="#008000"/>
<polyline points="58.80,649.79 102.77,700.14 146.73,758.51 190.70,800.59 234.67,802.05 278.63,763.13 322.60,710.84" fill="none" stroke="#ff8000" stroke-width="1.5" />
<rect x="55.60" y="646.59" width="6.40" height="6.40" fill="#ff8000"/>
<rect x="99.57" y="696.94" width="6.40" height="6.40" fill="#ff8000"/>
<rect x="143.53" y="755.31" width="6.40" height="6.40" fill="#ff8000"/>
<rect x="187.50" y="797.39" width="6.40" height="6.40" fill="#ff8000"/>
<rect x="231.47" y="798.85" width="6.40" height="6.40" fill="#ff8000"/>
<rect x="275.43" y="759.93" width="6.40" height="6.40" fill="#ff8000"/>
<rect x="319.40" y="707.64" width="6.40" height="6.40" fill="#ff8000"/>
<polyline points="58.80,657.58 102.77,716.92 146.73,786.48 190.70,800.10 234.67,707.68 278.63,630.09 322.60,598.23" fill="none" stroke="#ff8000" stroke-width="1.5" stroke-dasharray="2.2,3.3"/>
<g stroke="#ff8000" stroke-width="1.1"><line x1="53.30" y1="657.58" x2="64.30" y2="657.58"/><line x1="58.80" y1="652.08" x2="58.80" y2="663.08"/></g>
<g stroke="#ff8000" stroke-width="0.9" opacity="0.85"><line x1="54.84" y1="653.62" x2="62.76" y2="661.54"/><line x1="54.84" y1="661.54" x2="62.76" y2="653.62"/></g>
<g stroke="#ff8000" stroke-width="1.1"><line x1="97.27" y1="716.92" x2="108.27" y2="716.92"/><line x1="102.77" y1="711.42" x2="102.77" y2="722.42"/></g>
<g stroke="#ff8000" stroke-width="0.9" opacity="0.85"><line x1="98.81" y1="712.96" x2="106.73" y2="720.88"/><line x1="98.81" y1="720.88" x2="106.73" y2="712.96"/></g>
<g stroke="#ff8000" stroke-width="1.1"><line x1="141.23" y1="786.48" x2="152.23" y2="786.48"/><line x1="146.73" y1="780.98" x2="146.73" y2="791.98"/></g>
<g stroke="#ff8000" stroke-width="0.9" opacity="0.85"><line x1="142.77" y1="782.52" x2="150.69" y2="790.44"/><line x1="142.77" y1="790.44" x2="150.69" y2="782.52"/></g>
<g stroke="#ff8000" stroke-width="1.1"><line x1="185.20" y1="800.10" x2="196.20" y2="800.10"/><line x1="190.70" y1="794.60" x2="190.70" y2="805.60"/></g>
<g stroke="#ff8000" stroke-width="0.9" opacity="0.85"><line x1="186.74" y1="796.14" x2="194.66" y2="804.06"/><line x1="186.74" y1="804.06" x2="194.66" y2="796.14"/></g>
<g stroke="#ff8000" stroke-width="1.1"><line x1="229.17" y1="707.68" x2="240.17" y2="707.68"/><line x1="234.67" y1="702.18" x2="234.67" y2="713.18"/></g>
<g stroke="#ff8000" stroke-width="0.9" opacity="0.85"><line x1="230.71" y1="703.72" x2="238.63" y2="711.64"/><line x1="230.71" y1="711.64" x2="238.63" y2="703.72"/></g>
<g stroke="#ff8000" stroke-width="1.1"><line x1="273.13" y1="630.09" x2="284.13" y2="630.09"/><line x1="278.63" y1="624.59" x2="278.63" y2="635.59"/></g>
<g stroke="#ff8000" stroke-width="0.9" opacity="0.85"><line x1="274.67" y1="626.13" x2="282.59" y2="634.05"/><line x1="274.67" y1="634.05" x2="282.59" y2="626.13"/></g>
<g stroke="#ff8000" stroke-width="1.1"><line x1="317.10" y1="598.23" x2="328.10" y2="598.23"/><line x1="322.60" y1="592.73" x2="322.60" y2="603.73"/></g>
<g stroke="#ff8000" stroke-width="0.9" opacity="0.85"><line x1="318.64" y1="594.27" x2="326.56" y2="602.19"/><line x1="318.64" y1="602.19" x2="326.56" y2="594.27"/></g>
</g>
<line x1="58.80" y1="588.50" x2="322.60" y2="588.50" stroke="#000" stroke-width="1.5" />
<line x1="58.80" y1="807.40" x2="322.60" y2="807.40" stroke="#000" stroke-width="1.6" />
<line x1="58.80" y1="807.40" x2="58.80" y2="812.40" stroke="#000" stroke-width="1.4" />
<text x="58.80" y="828.50" font-size="16.8" fill="#000" text-anchor="middle" font-weight="bold" >30</text>
<line x1="102.77" y1="807.40" x2="102.77" y2="812.40" stroke="#000" stroke-width="1.4" />
<text x="102.77" y="828.50" font-size="16.8" fill="#000" text-anchor="middle" font-weight="bold" >35</text>
<line x1="146.73" y1="807.40" x2="146.73" y2="812.40" stroke="#000" stroke-width="1.4" />
<text x="146.73" y="828.50" font-size="16.8" fill="#000" text-anchor="middle" font-weight="bold" >40</text>
<line x1="190.70" y1="807.40" x2="190.70" y2="812.40" stroke="#000" stroke-width="1.4" />
<text x="190.70" y="828.50" font-size="16.8" fill="#000" text-anchor="middle" font-weight="bold" >45</text>
<line x1="234.67" y1="807.40" x2="234.67" y2="812.40" stroke="#000" stroke-width="1.4" />
<text x="234.67" y="828.50" font-size="16.8" fill="#000" text-anchor="middle" font-weight="bold" >50</text>
<line x1="278.63" y1="807.40" x2="278.63" y2="812.40" stroke="#000" stroke-width="1.4" />
<text x="278.63" y="828.50" font-size="16.8" fill="#000" text-anchor="middle" font-weight="bold" >55</text>
<line x1="322.60" y1="807.40" x2="322.60" y2="812.40" stroke="#000" stroke-width="1.4" />
<text x="322.60" y="828.50" font-size="16.8" fill="#000" text-anchor="middle" font-weight="bold" >60</text>
<line x1="58.80" y1="588.50" x2="58.80" y2="807.40" stroke="#0000ff" stroke-width="1.6" />
<line x1="58.80" y1="807.40" x2="53.30" y2="807.40" stroke="#0000ff" stroke-width="1.4" />
<text x="49.00" y="813.10" font-size="16.8" fill="#0000ff" text-anchor="end" font-weight="bold" >250</text>
<line x1="58.80" y1="776.13" x2="53.30" y2="776.13" stroke="#0000ff" stroke-width="1.4" />
<text x="49.00" y="781.83" font-size="16.8" fill="#0000ff" text-anchor="end" font-weight="bold" >300</text>
<line x1="58.80" y1="744.86" x2="53.30" y2="744.86" stroke="#0000ff" stroke-width="1.4" />
<text x="49.00" y="750.56" font-size="16.8" fill="#0000ff" text-anchor="end" font-weight="bold" >350</text>
<line x1="58.80" y1="713.59" x2="53.30" y2="713.59" stroke="#0000ff" stroke-width="1.4" />
<text x="49.00" y="719.29" font-size="16.8" fill="#0000ff" text-anchor="end" font-weight="bold" >400</text>
<line x1="58.80" y1="682.31" x2="53.30" y2="682.31" stroke="#0000ff" stroke-width="1.4" />
<text x="49.00" y="688.01" font-size="16.8" fill="#0000ff" text-anchor="end" font-weight="bold" >450</text>
<line x1="58.80" y1="651.04" x2="53.30" y2="651.04" stroke="#0000ff" stroke-width="1.4" />
<text x="49.00" y="656.74" font-size="16.8" fill="#0000ff" text-anchor="end" font-weight="bold" >500</text>
<line x1="58.80" y1="619.77" x2="53.30" y2="619.77" stroke="#0000ff" stroke-width="1.4" />
<text x="49.00" y="625.47" font-size="16.8" fill="#0000ff" text-anchor="end" font-weight="bold" >550</text>
<line x1="58.80" y1="588.50" x2="53.30" y2="588.50" stroke="#0000ff" stroke-width="1.4" />
<text x="49.00" y="594.20" font-size="16.8" fill="#0000ff" text-anchor="end" font-weight="bold" >600</text>
<line x1="58.80" y1="791.76" x2="55.30" y2="791.76" stroke="#0000ff" stroke-width="1.2" />
<line x1="58.80" y1="760.49" x2="55.30" y2="760.49" stroke="#0000ff" stroke-width="1.2" />
<line x1="58.80" y1="729.22" x2="55.30" y2="729.22" stroke="#0000ff" stroke-width="1.2" />
<line x1="58.80" y1="697.95" x2="55.30" y2="697.95" stroke="#0000ff" stroke-width="1.2" />
<line x1="58.80" y1="666.68" x2="55.30" y2="666.68" stroke="#0000ff" stroke-width="1.2" />
<line x1="58.80" y1="635.41" x2="55.30" y2="635.41" stroke="#0000ff" stroke-width="1.2" />
<line x1="58.80" y1="604.14" x2="55.30" y2="604.14" stroke="#0000ff" stroke-width="1.2" />
<line x1="322.60" y1="588.50" x2="322.60" y2="807.40" stroke="#008000" stroke-width="1.6" />
<line x1="322.60" y1="807.40" x2="328.10" y2="807.40" stroke="#008000" stroke-width="1.4" />
<text x="330.10" y="813.10" font-size="16.8" fill="#008000" text-anchor="start" font-weight="bold" >1</text>
<line x1="322.60" y1="776.13" x2="328.10" y2="776.13" stroke="#008000" stroke-width="1.4" />
<text x="330.10" y="781.83" font-size="16.8" fill="#008000" text-anchor="start" font-weight="bold" >2</text>
<line x1="322.60" y1="744.86" x2="328.10" y2="744.86" stroke="#008000" stroke-width="1.4" />
<text x="330.10" y="750.56" font-size="16.8" fill="#008000" text-anchor="start" font-weight="bold" >3</text>
<line x1="322.60" y1="713.59" x2="328.10" y2="713.59" stroke="#008000" stroke-width="1.4" />
<text x="330.10" y="719.29" font-size="16.8" fill="#008000" text-anchor="start" font-weight="bold" >4</text>
<line x1="322.60" y1="682.31" x2="328.10" y2="682.31" stroke="#008000" stroke-width="1.4" />
<text x="330.10" y="688.01" font-size="16.8" fill="#008000" text-anchor="start" font-weight="bold" >5</text>
<line x1="322.60" y1="651.04" x2="328.10" y2="651.04" stroke="#008000" stroke-width="1.4" />
<text x="330.10" y="656.74" font-size="16.8" fill="#008000" text-anchor="start" font-weight="bold" >6</text>
<line x1="322.60" y1="619.77" x2="328.10" y2="619.77" stroke="#008000" stroke-width="1.4" />
<text x="330.10" y="625.47" font-size="16.8" fill="#008000" text-anchor="start" font-weight="bold" >7</text>
<line x1="322.60" y1="588.50" x2="328.10" y2="588.50" stroke="#008000" stroke-width="1.4" />
<text x="330.10" y="594.20" font-size="16.8" fill="#008000" text-anchor="start" font-weight="bold" >8</text>
<line x1="322.60" y1="791.76" x2="326.10" y2="791.76" stroke="#008000" stroke-width="1.2" />
<line x1="322.60" y1="760.49" x2="326.10" y2="760.49" stroke="#008000" stroke-width="1.2" />
<line x1="322.60" y1="729.22" x2="326.10" y2="729.22" stroke="#008000" stroke-width="1.2" />
<line x1="322.60" y1="697.95" x2="326.10" y2="697.95" stroke="#008000" stroke-width="1.2" />
<line x1="322.60" y1="666.68" x2="326.10" y2="666.68" stroke="#008000" stroke-width="1.2" />
<line x1="322.60" y1="635.41" x2="326.10" y2="635.41" stroke="#008000" stroke-width="1.2" />
<line x1="322.60" y1="604.14" x2="326.10" y2="604.14" stroke="#008000" stroke-width="1.2" />
<line x1="360.80" y1="588.50" x2="360.80" y2="807.40" stroke="#ff8000" stroke-width="1.6" />
<line x1="360.80" y1="807.40" x2="366.30" y2="807.40" stroke="#ff8000" stroke-width="1.4" />
<text x="368.80" y="813.10" font-size="16.8" fill="#ff8000" text-anchor="start" font-weight="bold" >0.0</text>
<line x1="360.80" y1="783.08" x2="366.30" y2="783.08" stroke="#ff8000" stroke-width="1.4" />
<text x="368.80" y="788.78" font-size="16.8" fill="#ff8000" text-anchor="start" font-weight="bold" >0.1</text>
<line x1="360.80" y1="758.76" x2="366.30" y2="758.76" stroke="#ff8000" stroke-width="1.4" />
<text x="368.80" y="764.46" font-size="16.8" fill="#ff8000" text-anchor="start" font-weight="bold" >0.2</text>
<line x1="360.80" y1="734.43" x2="366.30" y2="734.43" stroke="#ff8000" stroke-width="1.4" />
<text x="368.80" y="740.13" font-size="16.8" fill="#ff8000" text-anchor="start" font-weight="bold" >0.3</text>
<line x1="360.80" y1="710.11" x2="366.30" y2="710.11" stroke="#ff8000" stroke-width="1.4" />
<text x="368.80" y="715.81" font-size="16.8" fill="#ff8000" text-anchor="start" font-weight="bold" >0.4</text>
<line x1="360.80" y1="685.79" x2="366.30" y2="685.79" stroke="#ff8000" stroke-width="1.4" />
<text x="368.80" y="691.49" font-size="16.8" fill="#ff8000" text-anchor="start" font-weight="bold" >0.5</text>
<line x1="360.80" y1="661.47" x2="366.30" y2="661.47" stroke="#ff8000" stroke-width="1.4" />
<text x="368.80" y="667.17" font-size="16.8" fill="#ff8000" text-anchor="start" font-weight="bold" >0.6</text>
<line x1="360.80" y1="637.14" x2="366.30" y2="637.14" stroke="#ff8000" stroke-width="1.4" />
<text x="368.80" y="642.84" font-size="16.8" fill="#ff8000" text-anchor="start" font-weight="bold" >0.7</text>
<line x1="360.80" y1="612.82" x2="366.30" y2="612.82" stroke="#ff8000" stroke-width="1.4" />
<text x="368.80" y="618.52" font-size="16.8" fill="#ff8000" text-anchor="start" font-weight="bold" >0.8</text>
<line x1="360.80" y1="588.50" x2="366.30" y2="588.50" stroke="#ff8000" stroke-width="1.4" />
<text x="368.80" y="594.20" font-size="16.8" fill="#ff8000" text-anchor="start" font-weight="bold" >0.9</text>
<line x1="360.80" y1="795.24" x2="364.30" y2="795.24" stroke="#ff8000" stroke-width="1.2" />
<line x1="360.80" y1="770.92" x2="364.30" y2="770.92" stroke="#ff8000" stroke-width="1.2" />
<line x1="360.80" y1="746.59" x2="364.30" y2="746.59" stroke="#ff8000" stroke-width="1.2" />
<line x1="360.80" y1="722.27" x2="364.30" y2="722.27" stroke="#ff8000" stroke-width="1.2" />
<line x1="360.80" y1="697.95" x2="364.30" y2="697.95" stroke="#ff8000" stroke-width="1.2" />
<line x1="360.80" y1="673.63" x2="364.30" y2="673.63" stroke="#ff8000" stroke-width="1.2" />
<line x1="360.80" y1="649.31" x2="364.30" y2="649.31" stroke="#ff8000" stroke-width="1.2" />
<line x1="360.80" y1="624.98" x2="364.30" y2="624.98" stroke="#ff8000" stroke-width="1.2" />
<line x1="360.80" y1="600.66" x2="364.30" y2="600.66" stroke="#ff8000" stroke-width="1.2" />
<text transform="translate(17.6,697.95) rotate(-90)" font-size="17.2" fill="#0000ff" text-anchor="middle" font-weight="bold">Sensitivity (deg/RIU)</text>
<text transform="translate(355.5,698) rotate(-90)" font-size="17.2" fill="#008000" text-anchor="middle" font-weight="bold">FWHM (deg)</text>
<text transform="translate(411,699.4) rotate(-90)" font-size="17.2" fill="#ff8000" text-anchor="middle" font-weight="bold">Minimum Reflectance (R<tspan font-size="10.7" dy="4">min</tspan><tspan dy="-4">)</tspan></text>
<text x="190.70" y="847.30" font-size="17.2" fill="#000" text-anchor="middle" font-weight="bold" >Thickness of Cu layer (nm)</text>
<text x="187.20" y="866.70" font-size="15" fill="#000" text-anchor="middle" font-weight="bold" >(c)</text>
<rect x="121" y="593.5" width="155.5" height="20.0" fill="#c3c3c3"/>
<text x="198.75" y="606.30" font-size="12.5" fill="#000" text-anchor="middle" font-weight="bold">TiO<tspan font-size="8.1" dy="3.8">2</tspan><tspan dy="-3.8">(5nm) &amp; BaTiO</tspan><tspan font-size="8.1" dy="3.8">3</tspan><tspan dy="-3.8">(15nm)</tspan></text>
<line x1="171.00" y1="650.60" x2="189.00" y2="650.60" stroke="#0000ff" stroke-width="1.5" />
<circle cx="180.00" cy="650.60" r="3.85" fill="#0000ff"/>
<text x="190.90" y="653.77" font-size="9.6" fill="#000" text-anchor="start" font-weight="bold" letter-spacing="0.3">Sensitivity</text>
<line x1="171.00" y1="663.00" x2="189.00" y2="663.00" stroke="#008000" stroke-width="1.5" />
<path d="M180.00,657.90 L184.84,666.57 L175.16,666.57Z" fill="#008000"/>
<text x="190.90" y="666.17" font-size="9.6" fill="#000" text-anchor="start" font-weight="bold" letter-spacing="0.3">FWHM</text>
<line x1="171.00" y1="676.50" x2="189.00" y2="676.50" stroke="#ff8000" stroke-width="1.5" />
<rect x="176.80" y="673.30" width="6.40" height="6.40" fill="#ff8000"/>
<text x="190.90" y="679.67" font-size="9.6" fill="#000" text-anchor="start" font-weight="bold" >R<tspan font-size="6.0" dy="3">min</tspan><tspan dy="-3">(1.33)</tspan></text>
<line x1="171.00" y1="691.70" x2="189.00" y2="691.70" stroke="#ff8000" stroke-width="1.4" stroke-dasharray="2,3"/>
<g stroke="#ff8000" stroke-width="1.1"><line x1="174.50" y1="691.70" x2="185.50" y2="691.70"/><line x1="180.00" y1="686.20" x2="180.00" y2="697.20"/></g>
<g stroke="#ff8000" stroke-width="0.9" opacity="0.85"><line x1="176.04" y1="687.74" x2="183.96" y2="695.66"/><line x1="176.04" y1="695.66" x2="183.96" y2="687.74"/></g>
<text x="190.90" y="694.87" font-size="9.6" fill="#000" text-anchor="start" font-weight="bold" >R<tspan font-size="6.0" dy="3">min</tspan><tspan dy="-3">(1.335)</tspan></text>
<defs><linearGradient id="prism" x1="0" y1="0" x2="1" y2="0"><stop offset="0" stop-color="#c3ccd1"/><stop offset="0.5" stop-color="#fbfcfc"/><stop offset="1" stop-color="#c3ccd1"/></linearGradient></defs>
<clipPath id="clipd"><rect x="479.7" y="13.7" width="244.00000000000006" height="214.4"/></clipPath>
<g clip-path="url(#clipd)">
<path d="M479.60,21.15 L480.14,21.02 L480.68,20.89 L481.22,20.77 L481.76,20.64 L482.30,20.51 L482.84,20.38 L483.38,20.25 L483.92,20.12 L484.46,19.99 L485.01,19.87 L485.55,19.74 L486.09,19.61 L486.63,19.49 L487.17,19.37 L487.71,19.25 L488.25,19.13 L488.79,19.02 L489.33,18.91 L489.87,18.80 L490.41,18.70 L490.95,18.60 L491.49,18.50 L492.03,18.41 L492.57,18.32 L493.11,18.24 L493.65,18.16 L494.19,18.09 L494.73,18.02 L495.28,17.97 L495.82,17.91 L496.36,17.87 L496.90,17.83 L497.44,17.79 L497.98,17.77 L498.52,17.75 L499.06,17.74 L499.60,17.73 L500.14,17.73 L500.68,17.72 L501.22,17.72 L501.76,17.71 L502.30,17.71 L502.84,17.70 L503.38,17.69 L503.92,17.69 L504.46,17.68 L505.01,17.68 L505.55,17.67 L506.09,17.67 L506.63,17.66 L507.17,17.66 L507.71,17.66 L508.25,17.65 L508.79,17.65 L509.33,17.64 L509.87,17.64 L510.41,17.63 L510.95,17.63 L511.49,17.63 L512.03,17.62 L512.57,17.62 L513.11,17.61 L513.65,17.61 L514.19,17.61 L514.73,17.60 L515.28,17.60 L515.82,17.60 L516.36,17.59 L516.90,17.59 L517.44,17.59 L517.98,17.58 L518.52,17.58 L519.06,17.58 L519.60,17.58 L520.14,17.57 L520.68,17.57 L521.22,17.57 L521.76,17.57 L522.30,17.56 L522.84,17.56 L523.38,17.56 L523.92,17.56 L524.46,17.56 L525.00,17.55 L525.55,17.55 L526.09,17.55 L526.63,17.55 L527.17,17.55 L527.71,17.55 L528.25,17.54 L528.79,17.54 L529.33,17.54 L529.87,17.54 L530.41,17.54 L530.95,17.54 L531.49,17.54 L532.03,17.54 L532.57,17.53 L533.11,17.53 L533.65,17.53 L534.19,17.53 L534.73,17.53 L535.28,17.53 L535.82,17.53 L536.36,17.53 L536.90,17.53 L537.44,17.53 L537.98,17.53 L538.52,17.53 L539.06,17.53 L539.60,17.53 L540.14,17.53 L540.68,17.53 L541.22,17.53 L541.76,17.53 L542.30,17.53 L542.84,17.53 L543.38,17.53 L543.92,17.53 L544.46,17.53 L545.00,17.53 L545.55,17.53 L546.09,17.53 L546.63,17.53 L547.17,17.53 L547.71,17.53 L548.25,17.53 L548.79,17.53 L549.33,17.53 L549.87,17.53 L550.41,17.53 L550.95,17.53 L551.49,17.53 L552.03,17.53 L552.57,17.53 L553.11,17.53 L553.65,17.53 L554.19,17.53 L554.73,17.53 L555.27,17.53 L555.82,17.53 L556.36,17.53 L556.90,17.53 L557.44,17.53 L557.98,17.53 L558.52,17.53 L559.06,17.53 L559.60,17.53 L560.14,17.53 L560.68,17.53 L561.22,17.53 L561.76,17.53 L562.30,17.53 L562.84,17.53 L563.38,17.53 L563.92,17.53 L564.46,17.53 L565.00,17.53 L565.54,17.53 L566.09,17.53 L566.63,17.53 L567.17,17.53 L567.71,17.53 L568.25,17.53 L568.79,17.53 L569.33,17.53 L569.87,17.56 L570.41,17.67 L570.95,17.84 L571.49,18.07 L572.03,18.34 L572.57,18.64 L573.11,18.97 L573.65,19.30 L574.19,19.63 L574.73,19.94 L575.27,20.24 L575.82,20.52 L576.36,20.79 L576.90,21.06 L577.44,21.34 L577.98,21.63 L578.52,21.93 L579.06,22.25 L579.60,22.60 L580.14,22.99 L580.68,23.41 L581.22,23.87 L581.76,24.39 L582.30,24.96 L582.84,25.62 L583.38,26.50 L583.92,27.59 L584.46,28.90 L585.00,30.41 L585.54,32.12 L586.09,34.02 L586.63,36.10 L587.17,38.36 L587.71,40.80 L588.25,43.80 L588.79,47.54 L589.33,51.99 L589.87,57.10 L590.41,62.85 L590.95,69.19 L591.49,76.40 L592.03,86.14 L592.57,97.82 L593.11,110.36 L593.65,122.72 L594.19,134.54 L594.73,146.45 L595.27,158.79 L595.81,171.90 L596.36,186.11 L596.90,206.92 L597.44,223.24 L597.98,221.49 L598.52,212.63 L599.06,199.72 L599.60,185.33 L600.14,171.99 L600.68,157.93 L601.22,142.17 L601.76,126.92 L602.30,114.41 L602.84,105.90 L603.38,98.47 L603.92,91.65 L604.46,85.44 L605.00,79.82 L605.54,74.76 L606.09,70.26 L606.63,66.29 L607.17,62.84 L607.71,59.88 L608.25,57.18 L608.79,54.61 L609.33,52.18 L609.87,49.89 L610.41,47.74 L610.95,45.73 L611.49,43.86 L612.03,42.14 L612.57,40.56 L613.11,39.14 L613.65,37.88 L614.19,36.77 L614.73,35.81 L615.27,35.02 L615.81,34.34 L616.36,33.73 L616.90,33.20 L617.44,32.71 L617.98,32.27 L618.52,31.85 L619.06,31.44 L619.60,31.04 L620.14,30.61 L620.68,30.18 L621.22,29.74 L621.76,29.31 L622.30,28.90 L622.84,28.50 L623.38,28.12 L623.92,27.77 L624.46,27.46 L625.00,27.20 L625.54,26.97 L626.08,26.76 L626.63,26.55 L627.17,26.35 L627.71,26.15 L628.25,25.96 L628.79,25.78 L629.33,25.60 L629.87,25.43 L630.41,25.27 L630.95,25.11 L631.49,24.96 L632.03,24.81 L632.57,24.67 L633.11,24.53 L633.65,24.40 L634.19,24.27 L634.73,24.15 L635.27,24.04 L635.81,23.93 L636.36,23.82 L636.90,23.72 L637.44,23.63 L637.98,23.54 L638.52,23.45 L639.06,23.37 L639.60,23.30 L640.14,23.23 L640.68,23.16 L641.22,23.09 L641.76,23.02 L642.30,22.95 L642.84,22.88 L643.38,22.82 L643.92,22.75 L644.46,22.69 L645.00,22.63 L645.54,22.57 L646.08,22.51 L646.63,22.45 L647.17,22.39 L647.71,22.34 L648.25,22.28 L648.79,22.22 L649.33,22.17 L649.87,22.12 L650.41,22.06 L650.95,22.01 L651.49,21.96 L652.03,21.91 L652.57,21.86 L653.11,21.81 L653.65,21.77 L654.19,21.72 L654.73,21.67 L655.27,21.63 L655.81,21.59 L656.35,21.54 L656.90,21.50 L657.44,21.46 L657.98,21.41 L658.52,21.37 L659.06,21.33 L659.60,21.29 L660.14,21.25 L660.68,21.21 L661.22,21.18 L661.76,21.14 L662.30,21.10 L662.84,21.07 L663.38,21.03 L663.92,20.99 L664.46,20.96 L665.00,20.92 L665.54,20.89 L666.08,20.86 L666.62,20.82 L667.17,20.79 L667.71,20.76 L668.25,20.72 L668.79,20.69 L669.33,20.66 L669.87,20.63 L670.41,20.60 L670.95,20.57 L671.49,20.54 L672.03,20.50 L672.57,20.47 L673.11,20.44 L673.65,20.41 L674.19,20.39 L674.73,20.36 L675.27,20.33 L675.81,20.30 L676.35,20.27 L676.90,20.24 L677.44,20.21 L677.98,20.18 L678.52,20.15 L679.06,20.12 L679.60,20.09 L680.14,20.06 L680.68,20.04 L681.22,20.01 L681.76,19.98 L682.30,19.95 L682.84,19.92 L683.38,19.89 L683.92,19.87 L684.46,19.84 L685.00,19.81 L685.54,19.78 L686.08,19.75 L686.62,19.73 L687.17,19.70 L687.71,19.67 L688.25,19.64 L688.79,19.62 L689.33,19.59 L689.87,19.56 L690.41,19.54 L690.95,19.51 L691.49,19.48 L692.03,19.46 L692.57,19.43 L693.11,19.41 L693.65,19.38 L694.19,19.36 L694.73,19.33 L695.27,19.31 L695.81,19.28 L696.35,19.26 L696.89,19.23 L697.44,19.21 L697.98,19.18 L698.52,19.16 L699.06,19.14 L699.60,19.11 L700.14,19.09 L700.68,19.07 L701.22,19.04 L701.76,19.02 L702.30,19.00 L702.84,18.98 L703.38,18.96 L703.92,18.93 L704.46,18.91 L705.00,18.89 L705.54,18.87 L706.08,18.85 L706.62,18.83 L707.17,18.81 L707.71,18.79 L708.25,18.77 L708.79,18.75 L709.33,18.73 L709.87,18.72 L710.41,18.70 L710.95,18.68 L711.49,18.66 L712.03,18.65 L712.57,18.63 L713.11,18.61 L713.65,18.60 L714.19,18.58 L714.73,18.56 L715.27,18.55 L715.81,18.53 L716.35,18.52 L716.89,18.50 L717.44,18.49 L717.98,18.48 L718.52,18.46 L719.06,18.45 L719.60,18.44 L720.14,18.42 L720.68,18.41 L721.22,18.40 L721.76,18.39 L722.30,18.38" fill="none" stroke="#2a8cf5" stroke-width="2.2" />
<path d="M479.60,21.15 L480.14,21.02 L480.68,20.89 L481.22,20.77 L481.76,20.64 L482.30,20.51 L482.84,20.38 L483.38,20.25 L483.92,20.12 L484.46,19.99 L485.01,19.87 L485.55,19.74 L486.09,19.61 L486.63,19.49 L487.17,19.37 L487.71,19.25 L488.25,19.13 L488.79,19.02 L489.33,18.91 L489.87,18.80 L490.41,18.70 L490.95,18.60 L491.49,18.50 L492.03,18.41 L492.57,18.32 L493.11,18.24 L493.65,18.16 L494.19,18.09 L494.73,18.02 L495.28,17.97 L495.82,17.91 L496.36,17.87 L496.90,17.83 L497.44,17.79 L497.98,17.77 L498.52,17.75 L499.06,17.74 L499.60,17.73 L500.14,17.73 L500.68,17.72 L501.22,17.72 L501.76,17.71 L502.30,17.71 L502.84,17.70 L503.38,17.69 L503.92,17.69 L504.46,17.68 L505.01,17.68 L505.55,17.67 L506.09,17.67 L506.63,17.66 L507.17,17.66 L507.71,17.66 L508.25,17.65 L508.79,17.65 L509.33,17.64 L509.87,17.64 L510.41,17.63 L510.95,17.63 L511.49,17.63 L512.03,17.62 L512.57,17.62 L513.11,17.61 L513.65,17.61 L514.19,17.61 L514.73,17.60 L515.28,17.60 L515.82,17.60 L516.36,17.59 L516.90,17.59 L517.44,17.59 L517.98,17.58 L518.52,17.58 L519.06,17.58 L519.60,17.58 L520.14,17.57 L520.68,17.57 L521.22,17.57 L521.76,17.57 L522.30,17.56 L522.84,17.56 L523.38,17.56 L523.92,17.56 L524.46,17.56 L525.00,17.55 L525.55,17.55 L526.09,17.55 L526.63,17.55 L527.17,17.55 L527.71,17.55 L528.25,17.54 L528.79,17.54 L529.33,17.54 L529.87,17.54 L530.41,17.54 L530.95,17.54 L531.49,17.54 L532.03,17.54 L532.57,17.53 L533.11,17.53 L533.65,17.53 L534.19,17.53 L534.73,17.53 L535.28,17.53 L535.82,17.53 L536.36,17.53 L536.90,17.53 L537.44,17.53 L537.98,17.53 L538.52,17.53 L539.06,17.53 L539.60,17.53 L540.14,17.53 L540.68,17.53 L541.22,17.53 L541.76,17.53 L542.30,17.53 L542.84,17.53 L543.38,17.53 L543.92,17.54 L544.46,17.54 L545.00,17.54 L545.55,17.54 L546.09,17.55 L546.63,17.55 L547.17,17.56 L547.71,17.56 L548.25,17.57 L548.79,17.57 L549.33,17.58 L549.87,17.59 L550.41,17.59 L550.95,17.60 L551.49,17.61 L552.03,17.62 L552.57,17.63 L553.11,17.64 L553.65,17.65 L554.19,17.66 L554.73,17.67 L555.27,17.68 L555.82,17.69 L556.36,17.70 L556.90,17.72 L557.44,17.73 L557.98,17.74 L558.52,17.76 L559.06,17.77 L559.60,17.79 L560.14,17.80 L560.68,17.82 L561.22,17.84 L561.76,17.86 L562.30,17.87 L562.84,17.89 L563.38,17.91 L563.92,17.93 L564.46,17.95 L565.00,17.98 L565.54,18.00 L566.09,18.02 L566.63,18.04 L567.17,18.07 L567.71,18.09 L568.25,18.12 L568.79,18.14 L569.33,18.17 L569.87,18.19 L570.41,18.22 L570.95,18.25 L571.49,18.28 L572.03,18.31 L572.57,18.34 L573.11,18.37 L573.65,18.40 L574.19,18.43 L574.73,18.47 L575.27,18.50 L575.82,18.54 L576.36,18.57 L576.90,18.61 L577.44,18.67 L577.98,18.77 L578.52,18.90 L579.06,19.06 L579.60,19.26 L580.14,19.48 L580.68,19.73 L581.22,20.01 L581.76,20.31 L582.30,20.65 L582.84,21.00 L583.38,21.39 L583.92,21.80 L584.46,22.23 L585.00,22.69 L585.54,23.17 L586.09,23.67 L586.63,24.19 L587.17,24.74 L587.71,25.30 L588.25,25.99 L588.79,26.84 L589.33,27.85 L589.87,29.03 L590.41,30.36 L590.95,31.85 L591.49,33.49 L592.03,35.29 L592.57,37.23 L593.11,39.32 L593.65,41.55 L594.19,43.92 L594.73,46.44 L595.27,49.18 L595.81,52.66 L596.36,56.91 L596.90,61.88 L597.44,67.50 L597.98,73.73 L598.52,80.50 L599.06,87.87 L599.60,97.23 L600.14,108.43 L600.68,120.75 L601.22,133.44 L601.76,147.86 L602.30,166.07 L602.84,185.45 L603.38,203.32 L603.92,216.96 L604.46,223.67 L605.00,221.65 L605.54,212.95 L606.09,199.99 L606.63,185.14 L607.17,170.77 L607.71,159.20 L608.25,148.98 L608.79,138.71 L609.33,128.69 L609.87,119.21 L610.41,110.56 L610.95,103.03 L611.49,96.88 L612.03,91.48 L612.57,86.44 L613.11,81.74 L613.65,77.40 L614.19,73.40 L614.73,69.75 L615.27,66.45 L615.81,63.49 L616.36,60.87 L616.90,58.52 L617.44,56.26 L617.98,54.10 L618.52,52.03 L619.06,50.06 L619.60,48.18 L620.14,46.41 L620.68,44.73 L621.22,43.15 L621.76,41.68 L622.30,40.32 L622.84,39.06 L623.38,37.92 L623.92,36.88 L624.46,35.96 L625.00,35.15 L625.54,34.43 L626.08,33.75 L626.63,33.11 L627.17,32.53 L627.71,31.98 L628.25,31.47 L628.79,31.00 L629.33,30.56 L629.87,30.16 L630.41,29.78 L630.95,29.44 L631.49,29.11 L632.03,28.80 L632.57,28.49 L633.11,28.19 L633.65,27.89 L634.19,27.60 L634.73,27.31 L635.27,27.03 L635.81,26.75 L636.36,26.48 L636.90,26.22 L637.44,25.96 L637.98,25.71 L638.52,25.47 L639.06,25.23 L639.60,25.00 L640.14,24.78 L640.68,24.56 L641.22,24.35 L641.76,24.15 L642.30,23.96 L642.84,23.77 L643.38,23.60 L643.92,23.43 L644.46,23.27 L645.00,23.12 L645.54,22.97 L646.08,22.84 L646.63,22.71 L647.17,22.60 L647.71,22.49 L648.25,22.40 L648.79,22.31 L649.33,22.23 L649.87,22.16 L650.41,22.09 L650.95,22.03 L651.49,21.96 L652.03,21.90 L652.57,21.84 L653.11,21.78 L653.65,21.72 L654.19,21.66 L654.73,21.60 L655.27,21.55 L655.81,21.49 L656.35,21.44 L656.90,21.39 L657.44,21.34 L657.98,21.29 L658.52,21.24 L659.06,21.19 L659.60,21.14 L660.14,21.10 L660.68,21.06 L661.22,21.01 L661.76,20.97 L662.30,20.93 L662.84,20.89 L663.38,20.85 L663.92,20.81 L664.46,20.77 L665.00,20.73 L665.54,20.70 L666.08,20.66 L666.62,20.63 L667.17,20.59 L667.71,20.56 L668.25,20.53 L668.79,20.49 L669.33,20.46 L669.87,20.43 L670.41,20.40 L670.95,20.37 L671.49,20.34 L672.03,20.31 L672.57,20.28 L673.11,20.26 L673.65,20.23 L674.19,20.20 L674.73,20.17 L675.27,20.15 L675.81,20.12 L676.35,20.10 L676.90,20.07 L677.44,20.04 L677.98,20.02 L678.52,19.99 L679.06,19.97 L679.60,19.94 L680.14,19.92 L680.68,19.89 L681.22,19.87 L681.76,19.85 L682.30,19.82 L682.84,19.80 L683.38,19.77 L683.92,19.75 L684.46,19.72 L685.00,19.70 L685.54,19.67 L686.08,19.65 L686.62,19.62 L687.17,19.60 L687.71,19.57 L688.25,19.55 L688.79,19.52 L689.33,19.50 L689.87,19.47 L690.41,19.45 L690.95,19.42 L691.49,19.40 L692.03,19.38 L692.57,19.35 L693.11,19.33 L693.65,19.30 L694.19,19.28 L694.73,19.26 L695.27,19.24 L695.81,19.21 L696.35,19.19 L696.89,19.17 L697.44,19.14 L697.98,19.12 L698.52,19.10 L699.06,19.08 L699.60,19.06 L700.14,19.04 L700.68,19.01 L701.22,18.99 L701.76,18.97 L702.30,18.95 L702.84,18.93 L703.38,18.91 L703.92,18.89 L704.46,18.87 L705.00,18.85 L705.54,18.83 L706.08,18.81 L706.62,18.79 L707.17,18.78 L707.71,18.76 L708.25,18.74 L708.79,18.72 L709.33,18.71 L709.87,18.69 L710.41,18.67 L710.95,18.65 L711.49,18.64 L712.03,18.62 L712.57,18.61 L713.11,18.59 L713.65,18.58 L714.19,18.56 L714.73,18.55 L715.27,18.53 L715.81,18.52 L716.35,18.51 L716.89,18.49 L717.44,18.48 L717.98,18.47 L718.52,18.45 L719.06,18.44 L719.60,18.43 L720.14,18.42 L720.68,18.41 L721.22,18.40 L721.76,18.39 L722.30,18.38" fill="none" stroke="#f5821f" stroke-width="2.2" stroke-dasharray="18,7.5"/>
</g>
<rect x="482" y="197.5" width="55.60000000000002" height="30.599999999999994" fill="#fff" stroke="#555" stroke-width="0.8"/>
<line x1="485.30" y1="204.60" x2="500.30" y2="204.60" stroke="#2a8cf5" stroke-width="2.4" />
<line x1="485.30" y1="222.00" x2="500.30" y2="222.00" stroke="#f5821f" stroke-width="2.4" />
<text x="501.80" y="208.40" font-size="14.5" fill="#000" text-anchor="start" font-weight="bold" >1.33</text>
<text x="501.80" y="225.80" font-size="14.5" fill="#000" text-anchor="start" font-weight="bold" >1.335</text>
<rect x="479.7" y="13.7" width="244.00000000000006" height="214.4" fill="none" stroke="#000" stroke-width="3.3"/>
<line x1="468.20" y1="228.20" x2="479.70" y2="228.20" stroke="#000" stroke-width="2.6" />
<text x="467.20" y="233.80" font-size="16.5" fill="#000" text-anchor="end" font-weight="bold" >0</text>
<line x1="470.20" y1="206.92" x2="479.70" y2="206.92" stroke="#000" stroke-width="2.6" />
<line x1="468.20" y1="185.64" x2="479.70" y2="185.64" stroke="#000" stroke-width="2.6" />
<text x="467.20" y="191.24" font-size="16.5" fill="#000" text-anchor="end" font-weight="bold" >0.2</text>
<line x1="470.20" y1="164.36" x2="479.70" y2="164.36" stroke="#000" stroke-width="2.6" />
<line x1="468.20" y1="143.08" x2="479.70" y2="143.08" stroke="#000" stroke-width="2.6" />
<text x="467.20" y="148.68" font-size="16.5" fill="#000" text-anchor="end" font-weight="bold" >0.4</text>
<line x1="470.20" y1="121.80" x2="479.70" y2="121.80" stroke="#000" stroke-width="2.6" />
<line x1="468.20" y1="100.52" x2="479.70" y2="100.52" stroke="#000" stroke-width="2.6" />
<text x="467.20" y="106.12" font-size="16.5" fill="#000" text-anchor="end" font-weight="bold" >0.6</text>
<line x1="470.20" y1="79.24" x2="479.70" y2="79.24" stroke="#000" stroke-width="2.6" />
<line x1="468.20" y1="57.96" x2="479.70" y2="57.96" stroke="#000" stroke-width="2.6" />
<text x="467.20" y="63.56" font-size="16.5" fill="#000" text-anchor="end" font-weight="bold" >0.8</text>
<line x1="470.20" y1="36.68" x2="479.70" y2="36.68" stroke="#000" stroke-width="2.6" />
<line x1="468.20" y1="15.40" x2="479.70" y2="15.40" stroke="#000" stroke-width="2.6" />
<text x="467.20" y="21.00" font-size="16.5" fill="#000" text-anchor="end" font-weight="bold" >1</text>
<line x1="479.60" y1="228.10" x2="479.60" y2="238.40" stroke="#000" stroke-width="2.6" />
<text x="479.60" y="249.80" font-size="16.5" fill="#000" text-anchor="middle" font-weight="bold" >60</text>
<line x1="510.40" y1="228.10" x2="510.40" y2="235.10" stroke="#000" stroke-width="2.6" />
<line x1="537.60" y1="228.10" x2="537.60" y2="238.40" stroke="#000" stroke-width="2.6" />
<text x="537.60" y="249.80" font-size="16.5" fill="#000" text-anchor="middle" font-weight="bold" >65</text>
<line x1="569.40" y1="228.10" x2="569.40" y2="235.10" stroke="#000" stroke-width="2.6" />
<line x1="599.90" y1="228.10" x2="599.90" y2="238.40" stroke="#000" stroke-width="2.6" />
<text x="599.90" y="249.80" font-size="16.5" fill="#000" text-anchor="middle" font-weight="bold" >70</text>
<line x1="630.50" y1="228.10" x2="630.50" y2="235.10" stroke="#000" stroke-width="2.6" />
<line x1="661.10" y1="228.10" x2="661.10" y2="238.40" stroke="#000" stroke-width="2.6" />
<text x="661.10" y="249.80" font-size="16.5" fill="#000" text-anchor="middle" font-weight="bold" >75</text>
<line x1="690.30" y1="228.10" x2="690.30" y2="235.10" stroke="#000" stroke-width="2.6" />
<line x1="722.30" y1="228.10" x2="722.30" y2="238.40" stroke="#000" stroke-width="2.6" />
<text x="722.30" y="249.80" font-size="16.5" fill="#000" text-anchor="middle" font-weight="bold" >80</text>
<text transform="translate(438,121.80) rotate(-90)" font-size="17" fill="#000" text-anchor="middle" font-weight="bold">Reflectance (R<tspan font-size="11.1" dy="3">p</tspan><tspan dy="-3">)</tspan></text>
<text x="601.40" y="268.40" font-size="17" fill="#000" text-anchor="middle" font-weight="bold" >Incident angle (deg)</text>
<text x="589.50" y="286.00" font-size="14" fill="#000" text-anchor="middle" font-weight="bold" >(d)</text>
<text x="612.3000000000001" y="179.6" font-size="15" font-weight="bold" fill="#111" word-spacing="-0.6">FOM = 191RIU<tspan font-size="9.0" dy="-5.5">−1</tspan></text>
<text x="619.5" y="200.5" font-size="15" font-weight="bold" fill="#111" word-spacing="-0.8" letter-spacing="-0.1">S<tspan font-size="9.6" dy="0.5">n</tspan><tspan dy="-0.5"> = 132°/RIU</tspan></text>
<text x="619.3000000000001" y="221.5" font-size="15" font-weight="bold" fill="#111" word-spacing="-0.4">δθ = 0.66°</text>
<path d="M524.50,28.00 L562.50,87.00 L487.20,87.00Z" fill="url(#prism)" stroke="#8e999e" stroke-width="1"/>
<line x1="524.50" y1="28.00" x2="524.50" y2="51.00" stroke="#333" stroke-width="1" />
<line x1="524.50" y1="72.50" x2="524.50" y2="87.00" stroke="#333" stroke-width="1" />
<text x="524.50" y="66.00" font-size="10.5" fill="#222" text-anchor="middle" font-weight="bold" >BK7</text>
<text x="509.50" y="83.00" font-size="10.5" fill="#111" text-anchor="middle" font-weight="bold" style="font-family:Liberation Sans">θ</text>
<g stroke="#ff1a1a" stroke-width="1.2" fill="none"><polyline points="505.50,57.50 524.50,86.00 543.50,57.50"/></g>
<path d="M524.50,86.00 L519.73,83.17 L523.72,80.51Z" fill="#ff1a1a"/>
<path d="M543.50,57.50 L542.72,62.99 L538.73,60.33Z" fill="#ff1a1a"/>
<rect x="485.60" y="87.00" width="78.00" height="13.90" fill="#d9d9d9"/>
<rect x="485.60" y="100.90" width="78.00" height="17.60" fill="#f5883c"/>
<rect x="485.60" y="118.50" width="78.00" height="17.60" fill="#a8a8a8"/>
<rect x="485.60" y="136.10" width="78.00" height="16.80" fill="#19aeea"/>
<text x="524.60" y="97.55" font-size="10" fill="#333" text-anchor="middle" font-weight="bold">TiO<tspan font-size="6.5" dy="2">2</tspan><tspan dy="-2"> (5nm)</tspan></text>
<text x="524.60" y="113.30" font-size="10.5" fill="#3a2a1a" text-anchor="middle" font-weight="bold" >Cu (55nm)</text>
<text x="524.60" y="130.90" font-size="10" fill="#222" text-anchor="middle" font-weight="bold">BaTiO<tspan font-size="6.5" dy="2">3</tspan><tspan dy="-2">(5nm)</tspan></text>
<text x="524.60" y="148.10" font-size="9.3" fill="#0d2f4a" text-anchor="middle" font-weight="normal" >Sensing medium</text>
<clipPath id="clipe"><rect x="481.4" y="302.3" width="242.10000000000002" height="214.7"/></clipPath>
<g clip-path="url(#clipe)">
<path d="M481.10,306.72 L481.64,306.80 L482.17,306.87 L482.71,306.96 L483.25,307.06 L483.78,307.15 L484.32,307.24 L484.85,307.33 L485.39,307.42 L485.93,307.51 L486.46,307.59 L487.00,307.69 L487.54,307.78 L488.07,307.87 L488.61,307.96 L489.14,308.06 L489.68,308.15 L490.22,308.25 L490.75,308.35 L491.29,308.45 L491.83,308.56 L492.36,308.67 L492.90,308.78 L493.43,308.89 L493.97,309.01 L494.51,309.13 L495.04,309.26 L495.58,309.39 L496.12,309.52 L496.65,309.66 L497.19,309.80 L497.73,309.95 L498.26,310.10 L498.80,310.26 L499.33,310.43 L499.87,310.60 L500.41,310.78 L500.94,310.96 L501.48,311.15 L502.02,311.35 L502.55,311.55 L503.09,311.77 L503.62,311.99 L504.16,312.21 L504.70,312.45 L505.23,312.69 L505.77,312.97 L506.31,313.30 L506.84,313.67 L507.38,314.09 L507.92,314.56 L508.45,315.07 L508.99,315.64 L509.52,316.24 L510.06,316.89 L510.60,317.59 L511.13,318.32 L511.67,319.10 L512.21,319.92 L512.74,320.79 L513.28,321.69 L513.81,322.63 L514.35,323.61 L514.89,324.63 L515.42,325.71 L515.96,326.99 L516.50,328.47 L517.03,330.16 L517.57,332.02 L518.10,334.06 L518.64,336.25 L519.18,338.58 L519.71,341.04 L520.25,343.61 L520.79,346.28 L521.32,349.03 L521.86,351.90 L522.40,355.05 L522.93,358.49 L523.47,362.22 L524.00,366.22 L524.54,370.49 L525.08,375.00 L525.61,379.76 L526.15,384.75 L526.69,389.99 L527.22,395.87 L527.76,402.38 L528.29,409.39 L528.83,416.77 L529.37,424.37 L529.90,432.06 L530.44,439.72 L530.98,447.65 L531.51,455.92 L532.05,464.40 L532.59,472.93 L533.12,481.39 L533.66,489.65 L534.19,499.68 L534.73,509.29 L535.27,513.71 L535.80,512.59 L536.34,509.37 L536.88,504.51 L537.41,498.46 L537.95,491.65 L538.48,484.53 L539.02,477.54 L539.56,470.30 L540.09,461.53 L540.63,451.76 L541.17,441.57 L541.70,431.54 L542.24,422.24 L542.77,414.26 L543.31,407.49 L543.85,400.93 L544.38,394.63 L544.92,388.62 L545.46,382.96 L545.99,377.69 L546.53,372.87 L547.07,368.54 L547.60,364.75 L548.14,361.52 L548.67,358.49 L549.21,355.59 L549.75,352.83 L550.28,350.19 L550.82,347.70 L551.36,345.36 L551.89,343.16 L552.43,341.12 L552.96,339.23 L553.50,337.52 L554.04,335.97 L554.57,334.59 L555.11,333.39 L555.65,332.37 L556.18,331.43 L556.72,330.52 L557.26,329.65 L557.79,328.82 L558.33,328.02 L558.86,327.25 L559.40,326.51 L559.94,325.81 L560.47,325.14 L561.01,324.50 L561.55,323.90 L562.08,323.32 L562.62,322.77 L563.15,322.26 L563.69,321.77 L564.23,321.31 L564.76,320.88 L565.30,320.48 L565.84,320.10 L566.37,319.75 L566.91,319.42 L567.44,319.12 L567.98,318.85 L568.52,318.59 L569.05,318.33 L569.59,318.08 L570.13,317.83 L570.66,317.59 L571.20,317.35 L571.74,317.12 L572.27,316.89 L572.81,316.66 L573.34,316.44 L573.88,316.22 L574.42,316.00 L574.95,315.79 L575.49,315.59 L576.03,315.38 L576.56,315.18 L577.10,314.99 L577.63,314.80 L578.17,314.61 L578.71,314.42 L579.24,314.24 L579.78,314.07 L580.32,313.89 L580.85,313.72 L581.39,313.56 L581.92,313.40 L582.46,313.24 L583.00,313.08 L583.53,312.93 L584.07,312.78 L584.61,312.64 L585.14,312.50 L585.68,312.36 L586.22,312.23 L586.75,312.10 L587.29,311.97 L587.82,311.85 L588.36,311.73 L588.90,311.61 L589.43,311.50 L589.97,311.39 L590.51,311.28 L591.04,311.18 L591.58,311.08 L592.11,310.98 L592.65,310.89 L593.19,310.80 L593.72,310.71 L594.26,310.62 L594.80,310.54 L595.33,310.47 L595.87,310.39 L596.41,310.32 L596.94,310.25 L597.48,310.18 L598.01,310.12 L598.55,310.06 L599.09,310.00 L599.62,309.95 L600.16,309.90 L600.70,309.85 L601.23,309.80 L601.77,309.75 L602.30,309.70 L602.84,309.65 L603.38,309.61 L603.91,309.56 L604.45,309.52 L604.99,309.47 L605.52,309.43 L606.06,309.38 L606.59,309.34 L607.13,309.30 L607.67,309.26 L608.20,309.22 L608.74,309.17 L609.28,309.13 L609.81,309.09 L610.35,309.06 L610.89,309.02 L611.42,308.98 L611.96,308.94 L612.49,308.90 L613.03,308.87 L613.57,308.83 L614.10,308.80 L614.64,308.76 L615.18,308.73 L615.71,308.69 L616.25,308.66 L616.78,308.63 L617.32,308.59 L617.86,308.56 L618.39,308.53 L618.93,308.50 L619.47,308.47 L620.00,308.44 L620.54,308.41 L621.08,308.38 L621.61,308.35 L622.15,308.32 L622.68,308.29 L623.22,308.26 L623.76,308.23 L624.29,308.21 L624.83,308.18 L625.37,308.15 L625.90,308.13 L626.44,308.10 L626.97,308.07 L627.51,308.05 L628.05,308.02 L628.58,308.00 L629.12,307.97 L629.66,307.95 L630.19,307.92 L630.73,307.90 L631.26,307.88 L631.80,307.85 L632.34,307.83 L632.87,307.81 L633.41,307.78 L633.95,307.76 L634.48,307.74 L635.02,307.72 L635.56,307.70 L636.09,307.67 L636.63,307.65 L637.16,307.63 L637.70,307.61 L638.24,307.59 L638.77,307.57 L639.31,307.55 L639.85,307.53 L640.38,307.51 L640.92,307.49 L641.45,307.47 L641.99,307.45 L642.53,307.43 L643.06,307.41 L643.60,307.39 L644.14,307.37 L644.67,307.35 L645.21,307.33 L645.74,307.31 L646.28,307.29 L646.82,307.27 L647.35,307.25 L647.89,307.23 L648.43,307.21 L648.96,307.19 L649.50,307.17 L650.04,307.16 L650.57,307.14 L651.11,307.12 L651.64,307.10 L652.18,307.08 L652.72,307.06 L653.25,307.04 L653.79,307.02 L654.33,307.00 L654.86,306.98 L655.40,306.96 L655.93,306.94 L656.47,306.92 L657.01,306.90 L657.54,306.88 L658.08,306.86 L658.62,306.84 L659.15,306.82 L659.69,306.80 L660.23,306.78 L660.76,306.76 L661.30,306.74 L661.83,306.72 L662.37,306.70 L662.91,306.68 L663.44,306.65 L663.98,306.63 L664.52,306.61 L665.05,306.59 L665.59,306.57 L666.12,306.55 L666.66,306.53 L667.20,306.51 L667.73,306.49 L668.27,306.47 L668.81,306.45 L669.34,306.43 L669.88,306.41 L670.41,306.39 L670.95,306.37 L671.49,306.35 L672.02,306.33 L672.56,306.31 L673.10,306.29 L673.63,306.27 L674.17,306.25 L674.71,306.23 L675.24,306.21 L675.78,306.19 L676.31,306.17 L676.85,306.15 L677.39,306.13 L677.92,306.11 L678.46,306.09 L679.00,306.07 L679.53,306.05 L680.07,306.03 L680.60,306.02 L681.14,306.00 L681.68,305.98 L682.21,305.96 L682.75,305.94 L683.29,305.92 L683.82,305.90 L684.36,305.89 L684.90,305.87 L685.43,305.85 L685.97,305.83 L686.50,305.81 L687.04,305.79 L687.58,305.78 L688.11,305.76 L688.65,305.74 L689.19,305.72 L689.72,305.70 L690.26,305.69 L690.79,305.67 L691.33,305.65 L691.87,305.63 L692.40,305.62 L692.94,305.60 L693.48,305.58 L694.01,305.57 L694.55,305.55 L695.08,305.53 L695.62,305.52 L696.16,305.50 L696.69,305.48 L697.23,305.47 L697.77,305.45 L698.30,305.43 L698.84,305.42 L699.38,305.40 L699.91,305.38 L700.45,305.37 L700.98,305.35 L701.52,305.34 L702.06,305.32 L702.59,305.31 L703.13,305.29 L703.67,305.27 L704.20,305.26 L704.74,305.24 L705.27,305.23 L705.81,305.21 L706.35,305.20 L706.88,305.18 L707.42,305.17 L707.96,305.16 L708.49,305.14 L709.03,305.13 L709.57,305.11 L710.10,305.10 L710.64,305.08 L711.17,305.07 L711.71,305.06 L712.25,305.04 L712.78,305.03 L713.32,305.01 L713.86,305.00 L714.39,304.99 L714.93,304.97 L715.46,304.96 L716.00,304.95 L716.54,304.94 L717.07,304.92 L717.61,304.91 L718.15,304.90 L718.68,304.88 L719.22,304.87 L719.75,304.86 L720.29,304.85 L720.83,304.84 L721.36,304.82 L721.90,304.81" fill="none" stroke="#2a8cf5" stroke-width="2.2" />
<path d="M481.10,306.72 L481.64,306.73 L482.17,306.73 L482.71,306.74 L483.25,306.76 L483.78,306.78 L484.32,306.80 L484.85,306.83 L485.39,306.86 L485.93,306.89 L486.46,306.93 L487.00,306.98 L487.54,307.02 L488.07,307.07 L488.61,307.12 L489.14,307.18 L489.68,307.24 L490.22,307.30 L490.75,307.36 L491.29,307.43 L491.83,307.50 L492.36,307.58 L492.90,307.65 L493.43,307.73 L493.97,307.81 L494.51,307.90 L495.04,307.98 L495.58,308.07 L496.12,308.16 L496.65,308.25 L497.19,308.34 L497.73,308.44 L498.26,308.54 L498.80,308.64 L499.33,308.74 L499.87,308.84 L500.41,308.94 L500.94,309.05 L501.48,309.15 L502.02,309.26 L502.55,309.37 L503.09,309.48 L503.62,309.59 L504.16,309.70 L504.70,309.81 L505.23,309.92 L505.77,310.03 L506.31,310.15 L506.84,310.27 L507.38,310.39 L507.92,310.52 L508.45,310.65 L508.99,310.78 L509.52,310.92 L510.06,311.07 L510.60,311.22 L511.13,311.39 L511.67,311.55 L512.21,311.73 L512.74,311.91 L513.28,312.11 L513.81,312.31 L514.35,312.53 L514.89,312.75 L515.42,312.98 L515.96,313.23 L516.50,313.49 L517.03,313.76 L517.57,314.04 L518.10,314.34 L518.64,314.65 L519.18,314.97 L519.71,315.31 L520.25,315.67 L520.79,316.04 L521.32,316.43 L521.86,316.83 L522.40,317.25 L522.93,317.70 L523.47,318.30 L524.00,319.08 L524.54,320.03 L525.08,321.14 L525.61,322.38 L526.15,323.76 L526.69,325.26 L527.22,326.87 L527.76,328.57 L528.29,330.35 L528.83,332.21 L529.37,334.12 L529.90,336.08 L530.44,338.08 L530.98,340.22 L531.51,342.56 L532.05,345.10 L532.59,347.85 L533.12,350.82 L533.66,354.00 L534.19,357.40 L534.73,361.02 L535.27,364.88 L535.80,368.96 L536.34,373.28 L536.88,377.96 L537.41,383.58 L537.95,390.06 L538.48,397.19 L539.02,404.79 L539.56,412.63 L540.09,420.53 L540.63,428.41 L541.17,437.64 L541.70,448.24 L542.24,459.62 L542.77,471.23 L543.31,482.49 L543.85,492.83 L544.38,501.68 L544.92,508.48 L545.46,512.65 L545.99,513.63 L546.53,511.28 L547.07,506.16 L547.60,498.92 L548.14,490.20 L548.67,480.62 L549.21,470.82 L549.75,461.46 L550.28,453.15 L550.82,445.98 L551.36,438.65 L551.89,431.20 L552.43,423.76 L552.96,416.46 L553.50,409.45 L554.04,402.85 L554.57,396.81 L555.11,391.47 L555.65,386.92 L556.18,382.73 L556.72,378.68 L557.26,374.79 L557.79,371.06 L558.33,367.50 L558.86,364.13 L559.40,360.95 L559.94,357.98 L560.47,355.21 L561.01,352.66 L561.55,350.34 L562.08,348.26 L562.62,346.43 L563.15,344.84 L563.69,343.35 L564.23,341.90 L564.76,340.50 L565.30,339.15 L565.84,337.85 L566.37,336.59 L566.91,335.38 L567.44,334.23 L567.98,333.12 L568.52,332.06 L569.05,331.04 L569.59,330.08 L570.13,329.16 L570.66,328.30 L571.20,327.48 L571.74,326.72 L572.27,326.00 L572.81,325.33 L573.34,324.71 L573.88,324.14 L574.42,323.62 L574.95,323.15 L575.49,322.74 L576.03,322.35 L576.56,321.98 L577.10,321.62 L577.63,321.26 L578.17,320.91 L578.71,320.57 L579.24,320.24 L579.78,319.92 L580.32,319.60 L580.85,319.29 L581.39,318.99 L581.92,318.70 L582.46,318.41 L583.00,318.13 L583.53,317.86 L584.07,317.59 L584.61,317.33 L585.14,317.08 L585.68,316.84 L586.22,316.60 L586.75,316.37 L587.29,316.15 L587.82,315.93 L588.36,315.72 L588.90,315.52 L589.43,315.32 L589.97,315.13 L590.51,314.95 L591.04,314.77 L591.58,314.60 L592.11,314.43 L592.65,314.27 L593.19,314.12 L593.72,313.97 L594.26,313.83 L594.80,313.70 L595.33,313.57 L595.87,313.44 L596.41,313.33 L596.94,313.21 L597.48,313.11 L598.01,313.01 L598.55,312.91 L599.09,312.82 L599.62,312.73 L600.16,312.65 L600.70,312.57 L601.23,312.50 L601.77,312.42 L602.30,312.35 L602.84,312.27 L603.38,312.20 L603.91,312.13 L604.45,312.06 L604.99,311.99 L605.52,311.92 L606.06,311.85 L606.59,311.78 L607.13,311.72 L607.67,311.65 L608.20,311.59 L608.74,311.53 L609.28,311.46 L609.81,311.40 L610.35,311.34 L610.89,311.28 L611.42,311.22 L611.96,311.17 L612.49,311.11 L613.03,311.05 L613.57,311.00 L614.10,310.94 L614.64,310.89 L615.18,310.83 L615.71,310.78 L616.25,310.73 L616.78,310.68 L617.32,310.63 L617.86,310.58 L618.39,310.53 L618.93,310.48 L619.47,310.44 L620.00,310.39 L620.54,310.34 L621.08,310.30 L621.61,310.25 L622.15,310.21 L622.68,310.16 L623.22,310.12 L623.76,310.08 L624.29,310.04 L624.83,309.99 L625.37,309.95 L625.90,309.91 L626.44,309.87 L626.97,309.83 L627.51,309.80 L628.05,309.76 L628.58,309.72 L629.12,309.68 L629.66,309.64 L630.19,309.61 L630.73,309.57 L631.26,309.54 L631.80,309.50 L632.34,309.47 L632.87,309.43 L633.41,309.40 L633.95,309.36 L634.48,309.33 L635.02,309.30 L635.56,309.26 L636.09,309.23 L636.63,309.20 L637.16,309.17 L637.70,309.13 L638.24,309.10 L638.77,309.07 L639.31,309.04 L639.85,309.01 L640.38,308.98 L640.92,308.95 L641.45,308.92 L641.99,308.89 L642.53,308.86 L643.06,308.83 L643.60,308.80 L644.14,308.77 L644.67,308.74 L645.21,308.71 L645.74,308.68 L646.28,308.65 L646.82,308.62 L647.35,308.59 L647.89,308.56 L648.43,308.53 L648.96,308.50 L649.50,308.47 L650.04,308.45 L650.57,308.42 L651.11,308.39 L651.64,308.36 L652.18,308.33 L652.72,308.30 L653.25,308.27 L653.79,308.24 L654.33,308.21 L654.86,308.18 L655.40,308.15 L655.93,308.12 L656.47,308.09 L657.01,308.06 L657.54,308.03 L658.08,308.00 L658.62,307.97 L659.15,307.94 L659.69,307.90 L660.23,307.87 L660.76,307.84 L661.30,307.81 L661.83,307.78 L662.37,307.74 L662.91,307.71 L663.44,307.68 L663.98,307.65 L664.52,307.61 L665.05,307.58 L665.59,307.55 L666.12,307.52 L666.66,307.49 L667.20,307.45 L667.73,307.42 L668.27,307.39 L668.81,307.36 L669.34,307.33 L669.88,307.30 L670.41,307.27 L670.95,307.23 L671.49,307.20 L672.02,307.17 L672.56,307.14 L673.10,307.11 L673.63,307.08 L674.17,307.05 L674.71,307.02 L675.24,306.99 L675.78,306.96 L676.31,306.93 L676.85,306.90 L677.39,306.87 L677.92,306.84 L678.46,306.81 L679.00,306.78 L679.53,306.75 L680.07,306.72 L680.60,306.69 L681.14,306.66 L681.68,306.63 L682.21,306.60 L682.75,306.57 L683.29,306.54 L683.82,306.52 L684.36,306.49 L684.90,306.46 L685.43,306.43 L685.97,306.40 L686.50,306.37 L687.04,306.35 L687.58,306.32 L688.11,306.29 L688.65,306.26 L689.19,306.23 L689.72,306.21 L690.26,306.18 L690.79,306.15 L691.33,306.13 L691.87,306.10 L692.40,306.07 L692.94,306.04 L693.48,306.02 L694.01,305.99 L694.55,305.97 L695.08,305.94 L695.62,305.91 L696.16,305.89 L696.69,305.86 L697.23,305.84 L697.77,305.81 L698.30,305.78 L698.84,305.76 L699.38,305.73 L699.91,305.71 L700.45,305.68 L700.98,305.66 L701.52,305.63 L702.06,305.61 L702.59,305.59 L703.13,305.56 L703.67,305.54 L704.20,305.51 L704.74,305.49 L705.27,305.47 L705.81,305.44 L706.35,305.42 L706.88,305.40 L707.42,305.37 L707.96,305.35 L708.49,305.33 L709.03,305.31 L709.57,305.28 L710.10,305.26 L710.64,305.24 L711.17,305.22 L711.71,305.20 L712.25,305.17 L712.78,305.15 L713.32,305.13 L713.86,305.11 L714.39,305.09 L714.93,305.07 L715.46,305.05 L716.00,305.03 L716.54,305.01 L717.07,304.99 L717.61,304.97 L718.15,304.95 L718.68,304.93 L719.22,304.91 L719.75,304.89 L720.29,304.87 L720.83,304.85 L721.36,304.83 L721.90,304.81" fill="none" stroke="#f5821f" stroke-width="2.2" stroke-dasharray="18,7.5"/>
</g>
<rect x="664.6" y="484" width="56.60000000000002" height="33" fill="#fff" stroke="#555" stroke-width="0.8"/>
<line x1="670.10" y1="490.90" x2="685.10" y2="490.90" stroke="#2a8cf5" stroke-width="2.4" />
<line x1="670.10" y1="509.20" x2="685.10" y2="509.20" stroke="#f5821f" stroke-width="2.4" />
<text x="686.60" y="494.70" font-size="14.5" fill="#000" text-anchor="start" font-weight="bold" >1.33</text>
<text x="686.60" y="513.00" font-size="14.5" fill="#000" text-anchor="start" font-weight="bold" >1.335</text>
<rect x="481.4" y="302.3" width="242.10000000000002" height="214.7" fill="none" stroke="#000" stroke-width="3.3"/>
<line x1="469.90" y1="516.90" x2="481.40" y2="516.90" stroke="#000" stroke-width="2.6" />
<text x="468.20" y="522.50" font-size="16.5" fill="#000" text-anchor="end" font-weight="bold" >0</text>
<line x1="471.90" y1="495.67" x2="481.40" y2="495.67" stroke="#000" stroke-width="2.6" />
<line x1="469.90" y1="474.44" x2="481.40" y2="474.44" stroke="#000" stroke-width="2.6" />
<text x="468.20" y="480.04" font-size="16.5" fill="#000" text-anchor="end" font-weight="bold" >0.2</text>
<line x1="471.90" y1="453.21" x2="481.40" y2="453.21" stroke="#000" stroke-width="2.6" />
<line x1="469.90" y1="431.98" x2="481.40" y2="431.98" stroke="#000" stroke-width="2.6" />
<text x="468.20" y="437.58" font-size="16.5" fill="#000" text-anchor="end" font-weight="bold" >0.4</text>
<line x1="471.90" y1="410.75" x2="481.40" y2="410.75" stroke="#000" stroke-width="2.6" />
<line x1="469.90" y1="389.52" x2="481.40" y2="389.52" stroke="#000" stroke-width="2.6" />
<text x="468.20" y="395.12" font-size="16.5" fill="#000" text-anchor="end" font-weight="bold" >0.6</text>
<line x1="471.90" y1="368.29" x2="481.40" y2="368.29" stroke="#000" stroke-width="2.6" />
<line x1="469.90" y1="347.06" x2="481.40" y2="347.06" stroke="#000" stroke-width="2.6" />
<text x="468.20" y="352.66" font-size="16.5" fill="#000" text-anchor="end" font-weight="bold" >0.8</text>
<line x1="471.90" y1="325.83" x2="481.40" y2="325.83" stroke="#000" stroke-width="2.6" />
<line x1="469.90" y1="304.60" x2="481.40" y2="304.60" stroke="#000" stroke-width="2.6" />
<text x="468.20" y="310.20" font-size="16.5" fill="#000" text-anchor="end" font-weight="bold" >1</text>
<line x1="481.40" y1="517.00" x2="481.40" y2="527.30" stroke="#000" stroke-width="2.6" />
<text x="481.40" y="541.30" font-size="16.5" fill="#000" text-anchor="middle" font-weight="bold" >70</text>
<line x1="511.60" y1="517.00" x2="511.60" y2="524.00" stroke="#000" stroke-width="2.6" />
<line x1="541.30" y1="517.00" x2="541.30" y2="527.30" stroke="#000" stroke-width="2.6" />
<text x="541.30" y="541.30" font-size="16.5" fill="#000" text-anchor="middle" font-weight="bold" >75</text>
<line x1="571.30" y1="517.00" x2="571.30" y2="524.00" stroke="#000" stroke-width="2.6" />
<line x1="601.70" y1="517.00" x2="601.70" y2="527.30" stroke="#000" stroke-width="2.6" />
<text x="601.70" y="541.30" font-size="16.5" fill="#000" text-anchor="middle" font-weight="bold" >80</text>
<line x1="631.80" y1="517.00" x2="631.80" y2="524.00" stroke="#000" stroke-width="2.6" />
<line x1="661.50" y1="517.00" x2="661.50" y2="527.30" stroke="#000" stroke-width="2.6" />
<text x="661.50" y="541.30" font-size="16.5" fill="#000" text-anchor="middle" font-weight="bold" >85</text>
<line x1="691.20" y1="517.00" x2="691.20" y2="524.00" stroke="#000" stroke-width="2.6" />
<line x1="721.80" y1="517.00" x2="721.80" y2="527.30" stroke="#000" stroke-width="2.6" />
<text x="721.80" y="541.30" font-size="16.5" fill="#000" text-anchor="middle" font-weight="bold" >90</text>
<text transform="translate(440,412.45) rotate(-90)" font-size="17" fill="#000" text-anchor="middle" font-weight="bold">Reflectance (R<tspan font-size="11.1" dy="3">p</tspan><tspan dy="-3">)</tspan></text>
<text x="601.40" y="559.80" font-size="17" fill="#000" text-anchor="middle" font-weight="bold" >Incident angle (deg)</text>
<text x="590.00" y="574.00" font-size="14" fill="#000" text-anchor="middle" font-weight="bold" >(e)</text>
<text x="555.3000000000001" y="471" font-size="15" font-weight="bold" fill="#111" word-spacing="-0.6">FOM = 156.5RIU<tspan font-size="9.0" dy="-5.5">−1</tspan></text>
<text x="558.5" y="490.9" font-size="15" font-weight="bold" fill="#111" word-spacing="-0.8" letter-spacing="-0.1">S<tspan font-size="9.6" dy="0.5">n</tspan><tspan dy="-0.5"> = 180°/RIU</tspan></text>
<text x="556.1" y="511.3" font-size="15" font-weight="bold" fill="#111" word-spacing="-0.4">δθ = 0.90°</text>
<path d="M675.20,314.60 L713.50,372.90 L637.20,372.90Z" fill="url(#prism)" stroke="#8e999e" stroke-width="1"/>
<line x1="675.20" y1="314.60" x2="675.20" y2="337.33" stroke="#333" stroke-width="1" />
<line x1="675.20" y1="358.57" x2="675.20" y2="372.90" stroke="#333" stroke-width="1" />
<text x="675.20" y="352.15" font-size="10.5" fill="#222" text-anchor="middle" font-weight="bold" >BK7</text>
<text x="660.38" y="368.95" font-size="10.5" fill="#111" text-anchor="middle" font-weight="bold" style="font-family:Liberation Sans">θ</text>
<g stroke="#ff1a1a" stroke-width="1.2" fill="none"><polyline points="656.43,343.75 675.20,371.90 693.97,343.75"/></g>
<path d="M675.20,371.90 L670.43,369.07 L674.42,366.41Z" fill="#ff1a1a"/>
<path d="M693.97,343.75 L693.20,349.24 L689.20,346.58Z" fill="#ff1a1a"/>
<rect x="636.30" y="372.90" width="78.10" height="14.60" fill="#d9d9d9"/>
<rect x="636.30" y="387.50" width="78.10" height="17.50" fill="#f5883c"/>
<rect x="636.30" y="405.00" width="78.10" height="17.70" fill="#a8a8a8"/>
<rect x="636.30" y="422.70" width="78.10" height="15.90" fill="#19aeea"/>
<text x="675.35" y="383.80" font-size="10" fill="#333" text-anchor="middle" font-weight="bold">TiO<tspan font-size="6.5" dy="2">2</tspan><tspan dy="-2"> (5nm)</tspan></text>
<text x="675.35" y="399.85" font-size="10.5" fill="#3a2a1a" text-anchor="middle" font-weight="bold" >Cu (55nm)</text>
<text x="675.35" y="417.45" font-size="10" fill="#222" text-anchor="middle" font-weight="bold">BaTiO<tspan font-size="6.5" dy="2">3</tspan><tspan dy="-2">(10nm)</tspan></text>
<text x="675.35" y="434.25" font-size="9.3" fill="#0d2f4a" text-anchor="middle" font-weight="normal" >Sensing medium</text>
<clipPath id="clipf"><rect x="482.8" y="586.2" width="241.99999999999994" height="215.79999999999995"/></clipPath>
<g clip-path="url(#clipf)">
<path d="M482.30,590.11 L482.84,590.12 L483.37,590.12 L483.91,590.13 L484.44,590.13 L484.98,590.14 L485.51,590.14 L486.05,590.15 L486.58,590.15 L487.12,590.16 L487.65,590.16 L488.19,590.17 L488.72,590.17 L489.26,590.18 L489.80,590.19 L490.33,590.19 L490.87,590.20 L491.40,590.21 L491.94,590.21 L492.47,590.22 L493.01,590.23 L493.54,590.24 L494.08,590.24 L494.61,590.25 L495.15,590.26 L495.69,590.27 L496.22,590.28 L496.76,590.29 L497.29,590.30 L497.83,590.31 L498.36,590.32 L498.90,590.33 L499.43,590.34 L499.97,590.36 L500.50,590.37 L501.04,590.38 L501.57,590.39 L502.11,590.41 L502.65,590.42 L503.18,590.44 L503.72,590.45 L504.25,590.47 L504.79,590.49 L505.32,590.50 L505.86,590.52 L506.39,590.54 L506.93,590.56 L507.46,590.58 L508.00,590.60 L508.54,590.62 L509.07,590.64 L509.61,590.66 L510.14,590.68 L510.68,590.71 L511.21,590.73 L511.75,590.76 L512.28,590.78 L512.82,590.81 L513.35,590.83 L513.89,590.86 L514.42,590.89 L514.96,590.91 L515.50,590.94 L516.03,590.97 L516.57,591.00 L517.10,591.03 L517.64,591.06 L518.17,591.09 L518.71,591.12 L519.24,591.16 L519.78,591.19 L520.31,591.22 L520.85,591.25 L521.39,591.29 L521.92,591.32 L522.46,591.36 L522.99,591.39 L523.53,591.43 L524.06,591.47 L524.60,591.50 L525.13,591.54 L525.67,591.58 L526.20,591.62 L526.74,591.66 L527.27,591.70 L527.81,591.74 L528.35,591.78 L528.88,591.82 L529.42,591.86 L529.95,591.90 L530.49,591.94 L531.02,591.99 L531.56,592.03 L532.09,592.08 L532.63,592.12 L533.16,592.17 L533.70,592.21 L534.23,592.26 L534.77,592.30 L535.31,592.35 L535.84,592.40 L536.38,592.45 L536.91,592.50 L537.45,592.55 L537.98,592.59 L538.52,592.65 L539.05,592.70 L539.59,592.75 L540.12,592.80 L540.66,592.86 L541.20,592.91 L541.73,592.97 L542.27,593.02 L542.80,593.08 L543.34,593.14 L543.87,593.20 L544.41,593.26 L544.94,593.32 L545.48,593.38 L546.01,593.45 L546.55,593.51 L547.08,593.58 L547.62,593.65 L548.16,593.72 L548.69,593.79 L549.23,593.87 L549.76,593.94 L550.30,594.02 L550.83,594.10 L551.37,594.18 L551.90,594.26 L552.44,594.35 L552.97,594.43 L553.51,594.52 L554.05,594.61 L554.58,594.71 L555.12,594.80 L555.65,594.90 L556.19,595.00 L556.72,595.10 L557.26,595.20 L557.79,595.31 L558.33,595.42 L558.86,595.53 L559.40,595.64 L559.93,595.76 L560.47,595.87 L561.01,595.99 L561.54,596.12 L562.08,596.24 L562.61,596.36 L563.15,596.49 L563.68,596.62 L564.22,596.75 L564.75,596.88 L565.29,597.01 L565.82,597.15 L566.36,597.29 L566.90,597.42 L567.43,597.56 L567.97,597.70 L568.50,597.84 L569.04,597.98 L569.57,598.13 L570.11,598.27 L570.64,598.42 L571.18,598.56 L571.71,598.71 L572.25,598.86 L572.78,599.00 L573.32,599.15 L573.86,599.30 L574.39,599.45 L574.93,599.60 L575.46,599.75 L576.00,599.90 L576.53,600.05 L577.07,600.21 L577.60,600.36 L578.14,600.52 L578.67,600.68 L579.21,600.84 L579.74,601.01 L580.28,601.17 L580.82,601.34 L581.35,601.52 L581.89,601.69 L582.42,601.87 L582.96,602.06 L583.49,602.24 L584.03,602.43 L584.56,602.63 L585.10,602.83 L585.63,603.03 L586.17,603.24 L586.71,603.45 L587.24,603.67 L587.78,603.89 L588.31,604.12 L588.85,604.35 L589.38,604.59 L589.92,604.84 L590.45,605.09 L590.99,605.36 L591.52,605.63 L592.06,605.91 L592.59,606.20 L593.13,606.50 L593.67,606.82 L594.20,607.14 L594.74,607.49 L595.27,607.85 L595.81,608.22 L596.34,608.61 L596.88,609.02 L597.41,609.45 L597.95,609.90 L598.48,610.37 L599.02,610.86 L599.56,611.37 L600.09,611.90 L600.63,612.45 L601.16,613.02 L601.70,613.61 L602.23,614.22 L602.77,614.84 L603.30,615.49 L603.84,616.15 L604.37,616.82 L604.91,617.52 L605.44,618.22 L605.98,618.95 L606.52,619.69 L607.05,620.44 L607.59,621.21 L608.12,622.00 L608.66,622.80 L609.19,623.62 L609.73,624.47 L610.26,625.33 L610.80,626.21 L611.33,627.12 L611.87,628.05 L612.41,629.01 L612.94,629.99 L613.48,631.00 L614.01,632.03 L614.55,633.09 L615.08,634.18 L615.62,635.30 L616.15,636.43 L616.69,637.60 L617.22,638.79 L617.76,640.00 L618.29,641.24 L618.83,642.50 L619.37,643.78 L619.90,645.08 L620.44,646.41 L620.97,647.76 L621.51,649.13 L622.04,650.52 L622.58,651.94 L623.11,653.39 L623.65,654.86 L624.18,656.36 L624.72,657.89 L625.26,659.45 L625.79,661.04 L626.33,662.67 L626.86,664.33 L627.40,666.04 L627.93,667.81 L628.47,669.64 L629.00,671.53 L629.54,673.51 L630.07,675.57 L630.61,677.72 L631.14,679.97 L631.68,682.32 L632.22,684.78 L632.75,687.33 L633.29,689.98 L633.82,692.70 L634.36,695.50 L634.89,698.37 L635.43,701.30 L635.96,704.29 L636.50,707.31 L637.03,710.36 L637.57,713.41 L638.10,716.46 L638.64,719.48 L639.18,722.47 L639.71,725.41 L640.25,728.29 L640.78,731.11 L641.32,733.89 L641.85,736.62 L642.39,739.31 L642.92,741.96 L643.46,744.57 L643.99,747.15 L644.53,749.70 L645.07,752.22 L645.60,754.71 L646.14,757.18 L646.67,759.61 L647.21,762.02 L647.74,764.41 L648.28,766.76 L648.81,769.09 L649.35,771.39 L649.88,773.65 L650.42,775.86 L650.95,778.01 L651.49,780.07 L652.03,782.04 L652.56,783.91 L653.10,785.64 L653.63,787.24 L654.17,788.68 L654.70,789.95 L655.24,791.00 L655.77,791.80 L656.31,792.32 L656.84,792.51 L657.38,792.37 L657.92,791.93 L658.45,791.20 L658.99,790.22 L659.52,789.02 L660.06,787.61 L660.59,786.02 L661.13,784.28 L661.66,782.40 L662.20,780.42 L662.73,778.35 L663.27,776.22 L663.80,774.05 L664.34,771.86 L664.88,769.68 L665.41,767.52 L665.95,765.37 L666.48,763.24 L667.02,761.11 L667.55,758.97 L668.09,756.83 L668.62,754.67 L669.16,752.49 L669.69,750.28 L670.23,748.04 L670.77,745.75 L671.30,743.42 L671.84,741.05 L672.37,738.63 L672.91,736.16 L673.44,733.65 L673.98,731.11 L674.51,728.52 L675.05,725.89 L675.58,723.22 L676.12,720.52 L676.65,717.79 L677.19,715.04 L677.73,712.29 L678.26,709.54 L678.80,706.80 L679.33,704.09 L679.87,701.40 L680.40,698.75 L680.94,696.13 L681.47,693.56 L682.01,691.04 L682.54,688.56 L683.08,686.13 L683.61,683.76 L684.15,681.45 L684.69,679.20 L685.22,677.01 L685.76,674.88 L686.29,672.81 L686.83,670.79 L687.36,668.82 L687.90,666.90 L688.43,665.03 L688.97,663.20 L689.50,661.42 L690.04,659.67 L690.58,657.96 L691.11,656.29 L691.65,654.65 L692.18,653.04 L692.72,651.47 L693.25,649.92 L693.79,648.41 L694.32,646.92 L694.86,645.47 L695.39,644.04 L695.93,642.64 L696.46,641.27 L697.00,639.92 L697.54,638.60 L698.07,637.30 L698.61,636.03 L699.14,634.78 L699.68,633.56 L700.21,632.35 L700.75,631.17 L701.28,630.01 L701.82,628.87 L702.35,627.74 L702.89,626.63 L703.43,625.54 L703.96,624.46 L704.50,623.39 L705.03,622.34 L705.57,621.30 L706.10,620.27 L706.64,619.25 L707.17,618.24 L707.71,617.23 L708.24,616.23 L708.78,615.24 L709.31,614.25 L709.85,613.27 L710.39,612.28 L710.92,611.30 L711.46,610.32 L711.99,609.34 L712.53,608.36 L713.06,607.38 L713.60,606.41 L714.13,605.43 L714.67,604.45 L715.20,603.48 L715.74,602.51 L716.28,601.53 L716.81,600.56 L717.35,599.59 L717.88,598.62 L718.42,597.65 L718.95,596.68 L719.49,595.71 L720.02,594.74 L720.56,593.77 L721.09,592.80 L721.63,591.84 L722.16,590.87 L722.70,589.90" fill="none" stroke="#2a8cf5" stroke-width="2.2" />
<path d="M482.30,590.11 L482.84,590.11 L483.37,590.11 L483.91,590.11 L484.44,590.12 L484.98,590.12 L485.51,590.12 L486.05,590.12 L486.58,590.12 L487.12,590.12 L487.65,590.12 L488.19,590.12 L488.72,590.12 L489.26,590.13 L489.80,590.13 L490.33,590.13 L490.87,590.13 L491.40,590.13 L491.94,590.14 L492.47,590.14 L493.01,590.14 L493.54,590.15 L494.08,590.15 L494.61,590.15 L495.15,590.16 L495.69,590.16 L496.22,590.17 L496.76,590.17 L497.29,590.18 L497.83,590.18 L498.36,590.19 L498.90,590.19 L499.43,590.20 L499.97,590.21 L500.50,590.22 L501.04,590.22 L501.57,590.23 L502.11,590.24 L502.65,590.25 L503.18,590.26 L503.72,590.27 L504.25,590.28 L504.79,590.29 L505.32,590.30 L505.86,590.31 L506.39,590.33 L506.93,590.34 L507.46,590.35 L508.00,590.37 L508.54,590.38 L509.07,590.40 L509.61,590.41 L510.14,590.43 L510.68,590.45 L511.21,590.46 L511.75,590.48 L512.28,590.50 L512.82,590.52 L513.35,590.54 L513.89,590.56 L514.42,590.58 L514.96,590.60 L515.50,590.62 L516.03,590.64 L516.57,590.66 L517.10,590.68 L517.64,590.71 L518.17,590.73 L518.71,590.75 L519.24,590.78 L519.78,590.80 L520.31,590.83 L520.85,590.86 L521.39,590.88 L521.92,590.91 L522.46,590.94 L522.99,590.96 L523.53,590.99 L524.06,591.02 L524.60,591.05 L525.13,591.08 L525.67,591.11 L526.20,591.14 L526.74,591.17 L527.27,591.20 L527.81,591.23 L528.35,591.26 L528.88,591.29 L529.42,591.33 L529.95,591.36 L530.49,591.39 L531.02,591.43 L531.56,591.46 L532.09,591.50 L532.63,591.53 L533.16,591.57 L533.70,591.60 L534.23,591.64 L534.77,591.68 L535.31,591.71 L535.84,591.75 L536.38,591.79 L536.91,591.83 L537.45,591.86 L537.98,591.90 L538.52,591.94 L539.05,591.98 L539.59,592.02 L540.12,592.06 L540.66,592.10 L541.20,592.15 L541.73,592.19 L542.27,592.23 L542.80,592.27 L543.34,592.31 L543.87,592.36 L544.41,592.40 L544.94,592.45 L545.48,592.49 L546.01,592.53 L546.55,592.58 L547.08,592.63 L547.62,592.67 L548.16,592.72 L548.69,592.77 L549.23,592.81 L549.76,592.86 L550.30,592.91 L550.83,592.96 L551.37,593.01 L551.90,593.06 L552.44,593.10 L552.97,593.15 L553.51,593.21 L554.05,593.26 L554.58,593.31 L555.12,593.36 L555.65,593.41 L556.19,593.46 L556.72,593.52 L557.26,593.57 L557.79,593.62 L558.33,593.68 L558.86,593.73 L559.40,593.79 L559.93,593.84 L560.47,593.90 L561.01,593.95 L561.54,594.01 L562.08,594.07 L562.61,594.12 L563.15,594.18 L563.68,594.24 L564.22,594.30 L564.75,594.36 L565.29,594.42 L565.82,594.48 L566.36,594.54 L566.90,594.60 L567.43,594.66 L567.97,594.72 L568.50,594.79 L569.04,594.85 L569.57,594.92 L570.11,594.99 L570.64,595.05 L571.18,595.12 L571.71,595.19 L572.25,595.26 L572.78,595.34 L573.32,595.41 L573.86,595.49 L574.39,595.56 L574.93,595.64 L575.46,595.72 L576.00,595.80 L576.53,595.88 L577.07,595.97 L577.60,596.05 L578.14,596.14 L578.67,596.23 L579.21,596.32 L579.74,596.42 L580.28,596.51 L580.82,596.61 L581.35,596.71 L581.89,596.81 L582.42,596.91 L582.96,597.02 L583.49,597.13 L584.03,597.23 L584.56,597.35 L585.10,597.46 L585.63,597.58 L586.17,597.70 L586.71,597.82 L587.24,597.94 L587.78,598.07 L588.31,598.20 L588.85,598.33 L589.38,598.47 L589.92,598.61 L590.45,598.75 L590.99,598.89 L591.52,599.04 L592.06,599.19 L592.59,599.34 L593.13,599.50 L593.67,599.66 L594.20,599.82 L594.74,599.99 L595.27,600.16 L595.81,600.33 L596.34,600.51 L596.88,600.69 L597.41,600.88 L597.95,601.07 L598.48,601.26 L599.02,601.46 L599.56,601.66 L600.09,601.87 L600.63,602.08 L601.16,602.29 L601.70,602.51 L602.23,602.73 L602.77,602.96 L603.30,603.19 L603.84,603.43 L604.37,603.67 L604.91,603.92 L605.44,604.17 L605.98,604.43 L606.52,604.69 L607.05,604.96 L607.59,605.23 L608.12,605.51 L608.66,605.79 L609.19,606.08 L609.73,606.37 L610.26,606.67 L610.80,606.98 L611.33,607.29 L611.87,607.61 L612.41,607.93 L612.94,608.27 L613.48,608.60 L614.01,608.95 L614.55,609.29 L615.08,609.65 L615.62,610.01 L616.15,610.38 L616.69,610.76 L617.22,611.14 L617.76,611.53 L618.29,611.93 L618.83,612.34 L619.37,612.75 L619.90,613.17 L620.44,613.60 L620.97,614.03 L621.51,614.47 L622.04,614.93 L622.58,615.38 L623.11,615.85 L623.65,616.32 L624.18,616.81 L624.72,617.30 L625.26,617.80 L625.79,618.31 L626.33,618.82 L626.86,619.35 L627.40,619.88 L627.93,620.43 L628.47,620.98 L629.00,621.54 L629.54,622.12 L630.07,622.71 L630.61,623.32 L631.14,623.94 L631.68,624.57 L632.22,625.23 L632.75,625.90 L633.29,626.59 L633.82,627.30 L634.36,628.03 L634.89,628.79 L635.43,629.56 L635.96,630.37 L636.50,631.19 L637.03,632.05 L637.57,632.93 L638.10,633.83 L638.64,634.77 L639.18,635.74 L639.71,636.74 L640.25,637.77 L640.78,638.83 L641.32,639.93 L641.85,641.07 L642.39,642.24 L642.92,643.44 L643.46,644.68 L643.99,645.96 L644.53,647.27 L645.07,648.61 L645.60,649.99 L646.14,651.39 L646.67,652.83 L647.21,654.30 L647.74,655.79 L648.28,657.32 L648.81,658.87 L649.35,660.44 L649.88,662.04 L650.42,663.67 L650.95,665.32 L651.49,666.99 L652.03,668.69 L652.56,670.40 L653.10,672.13 L653.63,673.89 L654.17,675.65 L654.70,677.44 L655.24,679.24 L655.77,681.05 L656.31,682.88 L656.84,684.72 L657.38,686.57 L657.92,688.43 L658.45,690.30 L658.99,692.17 L659.52,694.05 L660.06,695.94 L660.59,697.83 L661.13,699.73 L661.66,701.63 L662.20,703.54 L662.73,705.46 L663.27,707.40 L663.80,709.38 L664.34,711.38 L664.88,713.43 L665.41,715.53 L665.95,717.68 L666.48,719.89 L667.02,722.13 L667.55,724.41 L668.09,726.73 L668.62,729.08 L669.16,731.45 L669.69,733.84 L670.23,736.24 L670.77,738.65 L671.30,741.05 L671.84,743.45 L672.37,745.83 L672.91,748.18 L673.44,750.50 L673.98,752.77 L674.51,755.00 L675.05,757.17 L675.58,759.29 L676.12,761.35 L676.65,763.37 L677.19,765.34 L677.73,767.27 L678.26,769.16 L678.80,771.01 L679.33,772.84 L679.87,774.64 L680.40,776.42 L680.94,778.17 L681.47,779.88 L682.01,781.53 L682.54,783.11 L683.08,784.60 L683.61,785.98 L684.15,787.24 L684.69,788.37 L685.22,789.34 L685.76,790.17 L686.29,790.88 L686.83,791.47 L687.36,791.94 L687.90,792.33 L688.43,792.62 L688.97,792.81 L689.50,792.91 L690.04,792.90 L690.58,792.78 L691.11,792.54 L691.65,792.18 L692.18,791.70 L692.72,791.10 L693.25,790.39 L693.79,789.55 L694.32,788.60 L694.86,787.54 L695.39,786.36 L695.93,785.06 L696.46,783.66 L697.00,782.13 L697.54,780.50 L698.07,778.77 L698.61,776.93 L699.14,774.99 L699.68,772.95 L700.21,770.82 L700.75,768.60 L701.28,766.30 L701.82,763.90 L702.35,761.43 L702.89,758.88 L703.43,756.25 L703.96,753.55 L704.50,750.79 L705.03,747.96 L705.57,745.06 L706.10,742.11 L706.64,739.10 L707.17,736.02 L707.71,732.86 L708.24,729.62 L708.78,726.28 L709.31,722.83 L709.85,719.28 L710.39,715.59 L710.92,711.74 L711.46,707.72 L711.99,703.49 L712.53,699.03 L713.06,694.33 L713.60,689.41 L714.13,684.28 L714.67,678.97 L715.20,673.50 L715.74,667.90 L716.28,662.21 L716.81,656.48 L717.35,650.75 L717.88,645.05 L718.42,639.42 L718.95,633.84 L719.49,628.26 L720.02,622.66 L720.56,617.00 L721.09,611.25 L721.63,605.41 L722.16,599.52 L722.70,593.61" fill="none" stroke="#f5821f" stroke-width="2.2" stroke-dasharray="18,7.5"/>
</g>
<rect x="484" y="770.3" width="58.39999999999998" height="31.700000000000045" fill="#fff" stroke="#555" stroke-width="0.8"/>
<line x1="489.00" y1="777.80" x2="504.00" y2="777.80" stroke="#2a8cf5" stroke-width="2.4" />
<line x1="489.00" y1="794.00" x2="504.00" y2="794.00" stroke="#f5821f" stroke-width="2.4" />
<text x="505.50" y="781.60" font-size="14.5" fill="#000" text-anchor="start" font-weight="bold" >1.33</text>
<text x="505.50" y="797.80" font-size="14.5" fill="#000" text-anchor="start" font-weight="bold" >1.335</text>
<rect x="482.8" y="586.2" width="241.99999999999994" height="215.79999999999995" fill="none" stroke="#000" stroke-width="3.3"/>
<line x1="471.30" y1="802.30" x2="482.80" y2="802.30" stroke="#000" stroke-width="2.6" />
<text x="469.60" y="807.90" font-size="16.5" fill="#000" text-anchor="end" font-weight="bold" >0</text>
<line x1="473.30" y1="781.06" x2="482.80" y2="781.06" stroke="#000" stroke-width="2.6" />
<line x1="471.30" y1="759.82" x2="482.80" y2="759.82" stroke="#000" stroke-width="2.6" />
<text x="469.60" y="765.42" font-size="16.5" fill="#000" text-anchor="end" font-weight="bold" >0.2</text>
<line x1="473.30" y1="738.58" x2="482.80" y2="738.58" stroke="#000" stroke-width="2.6" />
<line x1="471.30" y1="717.34" x2="482.80" y2="717.34" stroke="#000" stroke-width="2.6" />
<text x="469.60" y="722.94" font-size="16.5" fill="#000" text-anchor="end" font-weight="bold" >0.4</text>
<line x1="473.30" y1="696.10" x2="482.80" y2="696.10" stroke="#000" stroke-width="2.6" />
<line x1="471.30" y1="674.86" x2="482.80" y2="674.86" stroke="#000" stroke-width="2.6" />
<text x="469.60" y="680.46" font-size="16.5" fill="#000" text-anchor="end" font-weight="bold" >0.6</text>
<line x1="473.30" y1="653.62" x2="482.80" y2="653.62" stroke="#000" stroke-width="2.6" />
<line x1="471.30" y1="632.38" x2="482.80" y2="632.38" stroke="#000" stroke-width="2.6" />
<text x="469.60" y="637.98" font-size="16.5" fill="#000" text-anchor="end" font-weight="bold" >0.8</text>
<line x1="473.30" y1="611.14" x2="482.80" y2="611.14" stroke="#000" stroke-width="2.6" />
<line x1="471.30" y1="589.90" x2="482.80" y2="589.90" stroke="#000" stroke-width="2.6" />
<text x="469.60" y="595.50" font-size="16.5" fill="#000" text-anchor="end" font-weight="bold" >1</text>
<line x1="482.60" y1="802.00" x2="482.60" y2="812.30" stroke="#000" stroke-width="2.6" />
<text x="482.60" y="826.70" font-size="16.5" fill="#000" text-anchor="middle" font-weight="bold" >70</text>
<line x1="512.80" y1="802.00" x2="512.80" y2="809.00" stroke="#000" stroke-width="2.6" />
<line x1="542.50" y1="802.00" x2="542.50" y2="812.30" stroke="#000" stroke-width="2.6" />
<text x="542.50" y="826.70" font-size="16.5" fill="#000" text-anchor="middle" font-weight="bold" >75</text>
<line x1="573.10" y1="802.00" x2="573.10" y2="809.00" stroke="#000" stroke-width="2.6" />
<line x1="603.50" y1="802.00" x2="603.50" y2="812.30" stroke="#000" stroke-width="2.6" />
<text x="603.50" y="826.70" font-size="16.5" fill="#000" text-anchor="middle" font-weight="bold" >80</text>
<line x1="633.20" y1="802.00" x2="633.20" y2="809.00" stroke="#000" stroke-width="2.6" />
<line x1="662.00" y1="802.00" x2="662.00" y2="812.30" stroke="#000" stroke-width="2.6" />
<text x="662.00" y="826.70" font-size="16.5" fill="#000" text-anchor="middle" font-weight="bold" >85</text>
<line x1="692.60" y1="802.00" x2="692.60" y2="809.00" stroke="#000" stroke-width="2.6" />
<line x1="724.40" y1="802.00" x2="724.40" y2="812.30" stroke="#000" stroke-width="2.6" />
<text x="724.40" y="826.70" font-size="16.5" fill="#000" text-anchor="middle" font-weight="bold" >90</text>
<text transform="translate(441,696.10) rotate(-90)" font-size="17" fill="#000" text-anchor="middle" font-weight="bold">Reflectance (R<tspan font-size="11.1" dy="3">p</tspan><tspan dy="-3">)</tspan></text>
<text x="603.10" y="845.40" font-size="17" fill="#000" text-anchor="middle" font-weight="bold" >Incident angle (deg)</text>
<text x="588.30" y="864.50" font-size="14" fill="#000" text-anchor="middle" font-weight="bold" >(f)</text>
<text x="507.7" y="743.4" font-size="15" font-weight="bold" fill="#111" word-spacing="-0.6">FOM = 136.97RIU<tspan font-size="9.0" dy="-5.5">−1</tspan></text>
<text x="547.9" y="769.8" font-size="15" font-weight="bold" fill="#111" word-spacing="-0.8" letter-spacing="-0.1">S<tspan font-size="9.6" dy="0.5">n</tspan><tspan dy="-0.5"> = 552°/RIU</tspan></text>
<text x="576.0" y="795.3" font-size="15" font-weight="bold" fill="#111" word-spacing="-0.4">δθ = 2.76°</text>
<path d="M527.30,603.00 L564.90,661.50 L489.60,661.50Z" fill="url(#prism)" stroke="#8e999e" stroke-width="1"/>
<line x1="527.30" y1="603.00" x2="527.30" y2="625.81" stroke="#333" stroke-width="1" />
<line x1="527.30" y1="647.12" x2="527.30" y2="661.50" stroke="#333" stroke-width="1" />
<text x="527.30" y="640.68" font-size="10.5" fill="#222" text-anchor="middle" font-weight="bold" >BK7</text>
<text x="512.43" y="657.53" font-size="10.5" fill="#111" text-anchor="middle" font-weight="bold" style="font-family:Liberation Sans">θ</text>
<g stroke="#ff1a1a" stroke-width="1.2" fill="none"><polyline points="508.46,632.25 527.30,660.50 546.14,632.25"/></g>
<path d="M527.30,660.50 L522.53,657.67 L526.52,655.01Z" fill="#ff1a1a"/>
<path d="M546.14,632.25 L545.36,637.74 L541.37,635.08Z" fill="#ff1a1a"/>
<rect x="488.00" y="661.50" width="78.50" height="14.40" fill="#d9d9d9"/>
<rect x="488.00" y="675.90" width="78.50" height="17.20" fill="#f5883c"/>
<rect x="488.00" y="693.10" width="78.50" height="17.60" fill="#a8a8a8"/>
<rect x="488.00" y="710.70" width="78.50" height="16.50" fill="#19aeea"/>
<text x="527.25" y="672.30" font-size="10" fill="#333" text-anchor="middle" font-weight="bold">TiO<tspan font-size="6.5" dy="2">2</tspan><tspan dy="-2"> (5nm)</tspan></text>
<text x="527.25" y="688.10" font-size="10.5" fill="#3a2a1a" text-anchor="middle" font-weight="bold" >Cu (45nm)</text>
<text x="527.25" y="705.50" font-size="10" fill="#222" text-anchor="middle" font-weight="bold">BaTiO<tspan font-size="6.5" dy="2">3</tspan><tspan dy="-2">(15nm)</tspan></text>
<text x="527.25" y="722.55" font-size="9.3" fill="#0d2f4a" text-anchor="middle" font-weight="normal" >Sensing medium</text>
<line x1="655.90" y1="793.20" x2="655.90" y2="802.00" stroke="#000" stroke-width="2.6" />
<line x1="690.90" y1="793.20" x2="690.90" y2="802.00" stroke="#000" stroke-width="2.6" />
<path d="M665,794.3 L680.7,794.3 M668.5,791.3 L665,794.3 L668.5,797.3 M677.2,791.3 L680.7,794.3 L677.2,797.3" fill="none" stroke="#000" stroke-width="1.3"/>
</svg></body></html>
